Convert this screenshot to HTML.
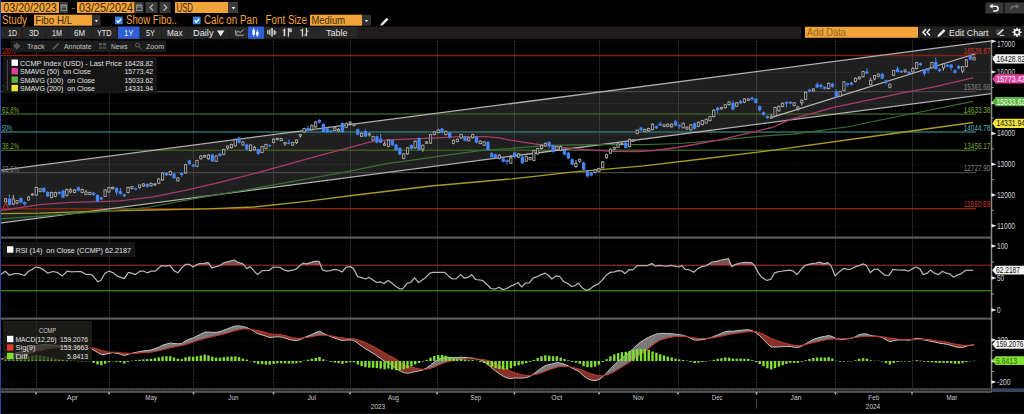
<!DOCTYPE html>
<html><head><meta charset="utf-8"><title>CCMP</title><style>html,body{margin:0;padding:0;background:#000;overflow:hidden}body{width:1024px;height:414px;font-family:"Liberation Sans",sans-serif}</style></head><body>
<svg width="1024" height="414" viewBox="0 0 1024 414" font-family="Liberation Sans, sans-serif" style="display:block">
<rect x="0" y="0" width="1024" height="414" fill="#000"/>
<g shape-rendering="crispEdges">
<line x1="36" y1="40" x2="36" y2="389" stroke="#ffffff" stroke-width="1" stroke-opacity="0.125"/>
<line x1="109" y1="40" x2="109" y2="389" stroke="#ffffff" stroke-width="1" stroke-opacity="0.125"/>
<line x1="193.5" y1="40" x2="193.5" y2="389" stroke="#ffffff" stroke-width="1" stroke-opacity="0.125"/>
<line x1="273.5" y1="40" x2="273.5" y2="389" stroke="#ffffff" stroke-width="1" stroke-opacity="0.125"/>
<line x1="350" y1="40" x2="350" y2="389" stroke="#ffffff" stroke-width="1" stroke-opacity="0.125"/>
<line x1="437" y1="40" x2="437" y2="389" stroke="#ffffff" stroke-width="1" stroke-opacity="0.125"/>
<line x1="514.5" y1="40" x2="514.5" y2="389" stroke="#ffffff" stroke-width="1" stroke-opacity="0.125"/>
<line x1="599" y1="40" x2="599" y2="389" stroke="#ffffff" stroke-width="1" stroke-opacity="0.125"/>
<line x1="678" y1="40" x2="678" y2="389" stroke="#ffffff" stroke-width="1" stroke-opacity="0.125"/>
<line x1="756.5" y1="40" x2="756.5" y2="389" stroke="#ffffff" stroke-width="1" stroke-opacity="0.125"/>
<line x1="835.5" y1="40" x2="835.5" y2="389" stroke="#ffffff" stroke-width="1" stroke-opacity="0.125"/>
<line x1="912" y1="40" x2="912" y2="389" stroke="#ffffff" stroke-width="1" stroke-opacity="0.125"/>
<line x1="0" y1="41.5" x2="991.5" y2="41.5" stroke="#ffffff" stroke-width="1" stroke-dasharray="1,1" stroke-opacity="0.08"/>
<line x1="0" y1="72.5" x2="991.5" y2="72.5" stroke="#ffffff" stroke-width="1" stroke-dasharray="1,1" stroke-opacity="0.08"/>
<line x1="0" y1="103.5" x2="991.5" y2="103.5" stroke="#ffffff" stroke-width="1" stroke-dasharray="1,1" stroke-opacity="0.08"/>
<line x1="0" y1="134.5" x2="991.5" y2="134.5" stroke="#ffffff" stroke-width="1" stroke-dasharray="1,1" stroke-opacity="0.08"/>
<line x1="0" y1="164.5" x2="991.5" y2="164.5" stroke="#ffffff" stroke-width="1" stroke-dasharray="1,1" stroke-opacity="0.08"/>
<line x1="0" y1="195.5" x2="991.5" y2="195.5" stroke="#ffffff" stroke-width="1" stroke-dasharray="1,1" stroke-opacity="0.08"/>
<line x1="0" y1="226.5" x2="991.5" y2="226.5" stroke="#ffffff" stroke-width="1" stroke-dasharray="1,1" stroke-opacity="0.08"/>
<line x1="0" y1="246.5" x2="991.5" y2="246.5" stroke="#ffffff" stroke-width="1" stroke-dasharray="1,1" stroke-opacity="0.08"/>
<line x1="0" y1="278.5" x2="991.5" y2="278.5" stroke="#ffffff" stroke-width="1" stroke-dasharray="1,1" stroke-opacity="0.08"/>
<line x1="0" y1="310.5" x2="991.5" y2="310.5" stroke="#ffffff" stroke-width="1" stroke-dasharray="1,1" stroke-opacity="0.08"/>
<line x1="0" y1="340.5" x2="991.5" y2="340.5" stroke="#ffffff" stroke-width="1" stroke-dasharray="1,1" stroke-opacity="0.08"/>
<line x1="0" y1="361.5" x2="991.5" y2="361.5" stroke="#ffffff" stroke-width="1" stroke-dasharray="1,1" stroke-opacity="0.08"/>
<line x1="0" y1="382.5" x2="991.5" y2="382.5" stroke="#ffffff" stroke-width="1" stroke-dasharray="1,1" stroke-opacity="0.08"/>
</g>
<polygon points="0,170.4 991.5,40.8 991.5,93.5 0,223.2" fill="#ffffff" fill-opacity="0.12"/>
<line x1="0" y1="55.4" x2="976" y2="55.4" stroke="#86230f" stroke-width="1.5"/>
<line x1="0" y1="91.6" x2="976" y2="91.6" stroke="#464646" stroke-width="1.1"/>
<line x1="0" y1="114.0" x2="976" y2="114.0" stroke="#3b5a1c" stroke-width="1.5"/>
<line x1="0" y1="132.1" x2="976" y2="132.1" stroke="#337068" stroke-width="1.5"/>
<line x1="0" y1="150.2" x2="976" y2="150.2" stroke="#3b5a1c" stroke-width="1.5"/>
<line x1="0" y1="172.6" x2="976" y2="172.6" stroke="#464646" stroke-width="1.1"/>
<line x1="0" y1="208.8" x2="976" y2="208.8" stroke="#86230f" stroke-width="1.5"/>
<line x1="0" y1="170.45" x2="991.5" y2="40.761799999999994" stroke="#b0b0b0" stroke-width="1.25"/>
<line x1="0" y1="223.2" x2="991.5" y2="93.5118" stroke="#b0b0b0" stroke-width="1.25"/>
<line x1="771" y1="117.6" x2="975.5" y2="53.8" stroke="#b8b8b8" stroke-width="1.2"/>
<polyline points="0.0,213.6 40.0,213.2 100.0,211.1 151.0,210.0 207.0,208.8 254.0,207.0 304.0,201.6 356.0,195.0 431.0,186.0 512.0,178.8 574.4,171.8 644.0,165.8 706.0,158.5 768.0,150.8 875.5,136.0 973.0,122.5" fill="none" stroke="#a89c22" stroke-width="1.3" stroke-linejoin="round"/>
<polyline points="0.0,219.0 40.0,216.1 100.0,211.7 146.6,207.5 193.0,198.9 256.0,188.2 300.0,180.2 343.6,172.4 388.0,163.4 419.8,159.2 446.4,155.2 486.0,149.9 512.0,148.4 547.8,145.3 587.7,144.6 644.0,144.6 680.0,143.5 720.0,140.2 764.6,135.8 793.0,134.2 850.0,126.5 868.0,122.5 918.0,112.5 973.0,101.3" fill="none" stroke="#377032" stroke-width="1.25" stroke-linejoin="round"/>
<polyline points="0.0,210.5 40.0,204.6 70.0,202.3 100.0,201.6 120.0,200.9 153.0,196.9 186.4,190.2 219.6,182.3 256.0,173.2 318.4,155.8 371.5,141.6 388.0,139.9 406.6,139.2 437.0,137.9 459.7,136.6 486.0,136.6 499.5,137.9 510.0,140.2 534.6,143.9 561.0,147.3 587.7,149.9 614.0,151.4 637.0,151.6 655.0,150.5 677.0,147.5 700.0,143.5 722.0,139.4 745.0,133.8 772.0,127.5 790.6,119.4 835.7,106.8 886.6,96.4 900.0,93.4 933.0,87.2 973.0,77.9" fill="none" stroke="#aa3a6c" stroke-width="1.3" stroke-linejoin="round"/>
<line x1="5.6" y1="198.0" x2="5.6" y2="202.70000000000002" stroke="#b4b4b4" stroke-width="1"/>
<rect x="4.4" y="198.8" width="2.3" height="3.0999999999999943" fill="#1c1c1c" stroke="#b4b4b4" stroke-width="0.8"/>
<line x1="9.4" y1="194.4" x2="9.4" y2="205.6" stroke="#4585f5" stroke-width="1"/>
<rect x="7.8" y="198.8" width="3.3" height="6.199999999999989" fill="#4585f5"/>
<line x1="13.3" y1="195" x2="13.3" y2="205" stroke="#b4b4b4" stroke-width="1"/>
<rect x="12.1" y="199" width="2.3" height="5" fill="#1c1c1c" stroke="#b4b4b4" stroke-width="0.8"/>
<line x1="17.1" y1="200" x2="17.1" y2="204.4" stroke="#b4b4b4" stroke-width="1"/>
<rect x="15.9" y="200.6" width="2.3" height="2.4000000000000057" fill="#1c1c1c" stroke="#b4b4b4" stroke-width="0.8"/>
<line x1="20.9" y1="197.2" x2="20.9" y2="203.3" stroke="#4585f5" stroke-width="1"/>
<rect x="19.3" y="198" width="3.3" height="4.5" fill="#4585f5"/>
<line x1="24.7" y1="201.5" x2="24.7" y2="205.6" stroke="#4585f5" stroke-width="1"/>
<rect x="23.1" y="202" width="3.3" height="2.4000000000000057" fill="#4585f5"/>
<line x1="28.6" y1="196.2" x2="28.6" y2="200.8" stroke="#b4b4b4" stroke-width="1"/>
<rect x="27.4" y="197" width="2.3" height="3" fill="#1c1c1c" stroke="#b4b4b4" stroke-width="0.8"/>
<line x1="32.4" y1="193.2" x2="32.4" y2="195.8" stroke="#b4b4b4" stroke-width="1"/>
<rect x="31.2" y="194" width="2.3" height="1" fill="#1c1c1c" stroke="#b4b4b4" stroke-width="0.8"/>
<line x1="36.2" y1="186.7" x2="36.2" y2="195.8" stroke="#b4b4b4" stroke-width="1"/>
<rect x="35.1" y="187.5" width="2.3" height="7.5" fill="#1c1c1c" stroke="#b4b4b4" stroke-width="0.8"/>
<line x1="40.1" y1="188.3" x2="40.1" y2="192.5" stroke="#b4b4b4" stroke-width="1"/>
<rect x="38.9" y="188.8" width="2.3" height="2.5" fill="#1c1c1c" stroke="#b4b4b4" stroke-width="0.8"/>
<line x1="43.9" y1="187.2" x2="43.9" y2="192.8" stroke="#4585f5" stroke-width="1"/>
<rect x="42.2" y="188" width="3.3" height="4" fill="#4585f5"/>
<line x1="47.7" y1="191.2" x2="47.7" y2="197.10000000000002" stroke="#4585f5" stroke-width="1"/>
<rect x="46.1" y="192" width="3.3" height="4.300000000000011" fill="#4585f5"/>
<line x1="51.5" y1="191.7" x2="51.5" y2="198.3" stroke="#b4b4b4" stroke-width="1"/>
<rect x="50.4" y="192.5" width="2.3" height="5.0" fill="#1c1c1c" stroke="#b4b4b4" stroke-width="0.8"/>
<line x1="55.4" y1="191.7" x2="55.4" y2="197.10000000000002" stroke="#b4b4b4" stroke-width="1"/>
<rect x="54.2" y="192.5" width="2.3" height="3.8000000000000114" fill="#1c1c1c" stroke="#b4b4b4" stroke-width="0.8"/>
<line x1="59.2" y1="191.2" x2="59.2" y2="194.60000000000002" stroke="#4585f5" stroke-width="1"/>
<rect x="57.5" y="192" width="3.3" height="1.8000000000000114" fill="#4585f5"/>
<line x1="63.0" y1="189.79999999999998" x2="63.0" y2="198.3" stroke="#4585f5" stroke-width="1"/>
<rect x="61.4" y="190.6" width="3.3" height="6.900000000000006" fill="#4585f5"/>
<line x1="66.8" y1="188.6" x2="66.8" y2="196.4" stroke="#b4b4b4" stroke-width="1"/>
<rect x="65.7" y="189.4" width="2.3" height="6.199999999999989" fill="#1c1c1c" stroke="#b4b4b4" stroke-width="0.8"/>
<line x1="70.7" y1="188.1" x2="70.7" y2="193.1" stroke="#b4b4b4" stroke-width="1"/>
<rect x="69.5" y="190" width="2.3" height="2" fill="#1c1c1c" stroke="#b4b4b4" stroke-width="0.8"/>
<line x1="74.5" y1="189.2" x2="74.5" y2="193.3" stroke="#b4b4b4" stroke-width="1"/>
<rect x="73.4" y="190" width="2.3" height="2.5" fill="#1c1c1c" stroke="#b4b4b4" stroke-width="0.8"/>
<line x1="78.3" y1="186.5" x2="78.3" y2="191.4" stroke="#4585f5" stroke-width="1"/>
<rect x="76.7" y="187.3" width="3.3" height="3.299999999999983" fill="#4585f5"/>
<line x1="82.2" y1="188.6" x2="82.2" y2="193.3" stroke="#b4b4b4" stroke-width="1"/>
<rect x="81.0" y="189.4" width="2.3" height="3.0999999999999943" fill="#1c1c1c" stroke="#b4b4b4" stroke-width="0.8"/>
<line x1="86.0" y1="190" x2="86.0" y2="195" stroke="#b4b4b4" stroke-width="1"/>
<rect x="84.8" y="192" width="2.3" height="2.4000000000000057" fill="#1c1c1c" stroke="#b4b4b4" stroke-width="0.8"/>
<line x1="89.8" y1="191.7" x2="89.8" y2="195.20000000000002" stroke="#b4b4b4" stroke-width="1"/>
<rect x="88.7" y="192.5" width="2.3" height="1.9000000000000057" fill="#1c1c1c" stroke="#b4b4b4" stroke-width="0.8"/>
<line x1="93.6" y1="192.0" x2="93.6" y2="195.60000000000002" stroke="#4585f5" stroke-width="1"/>
<rect x="92.0" y="192.8" width="3.3" height="2.0" fill="#4585f5"/>
<line x1="97.5" y1="194.2" x2="97.5" y2="202.10000000000002" stroke="#4585f5" stroke-width="1"/>
<rect x="95.8" y="195" width="3.3" height="6.300000000000011" fill="#4585f5"/>
<line x1="101.3" y1="196.7" x2="101.3" y2="200.20000000000002" stroke="#4585f5" stroke-width="1"/>
<rect x="99.6" y="197.5" width="3.3" height="1.9000000000000057" fill="#4585f5"/>
<line x1="105.1" y1="189.2" x2="105.1" y2="197.10000000000002" stroke="#b4b4b4" stroke-width="1"/>
<rect x="104.0" y="190" width="2.3" height="6.300000000000011" fill="#1c1c1c" stroke="#b4b4b4" stroke-width="0.8"/>
<line x1="109.0" y1="186.7" x2="109.0" y2="192.8" stroke="#b4b4b4" stroke-width="1"/>
<rect x="107.8" y="187.5" width="2.3" height="4.5" fill="#1c1c1c" stroke="#b4b4b4" stroke-width="0.8"/>
<line x1="112.8" y1="186.5" x2="112.8" y2="189.60000000000002" stroke="#b4b4b4" stroke-width="1"/>
<rect x="111.6" y="187.3" width="2.3" height="1.5" fill="#1c1c1c" stroke="#b4b4b4" stroke-width="0.8"/>
<line x1="116.6" y1="187.4" x2="116.6" y2="195" stroke="#4585f5" stroke-width="1"/>
<rect x="115.0" y="188" width="3.3" height="4.5" fill="#4585f5"/>
<line x1="120.4" y1="188.1" x2="120.4" y2="194.6" stroke="#4585f5" stroke-width="1"/>
<rect x="118.8" y="191.3" width="3.3" height="2.6999999999999886" fill="#4585f5"/>
<line x1="124.3" y1="193.6" x2="124.3" y2="197.10000000000002" stroke="#4585f5" stroke-width="1"/>
<rect x="122.6" y="194.4" width="3.3" height="1.9000000000000057" fill="#4585f5"/>
<line x1="128.1" y1="186.7" x2="128.1" y2="193.4" stroke="#b4b4b4" stroke-width="1"/>
<rect x="126.9" y="187.5" width="2.3" height="5.099999999999994" fill="#1c1c1c" stroke="#b4b4b4" stroke-width="0.8"/>
<line x1="131.9" y1="186" x2="131.9" y2="189.5" stroke="#b4b4b4" stroke-width="1"/>
<rect x="130.8" y="186.7" width="2.3" height="1.700000000000017" fill="#1c1c1c" stroke="#b4b4b4" stroke-width="0.8"/>
<line x1="135.8" y1="187.6" x2="135.8" y2="190.4" stroke="#4585f5" stroke-width="1"/>
<rect x="134.1" y="188.4" width="3.3" height="1.1999999999999886" fill="#4585f5"/>
<line x1="139.6" y1="184.8" x2="139.6" y2="188.6" stroke="#b4b4b4" stroke-width="1"/>
<rect x="138.4" y="185" width="2.3" height="2.5" fill="#1c1c1c" stroke="#b4b4b4" stroke-width="0.8"/>
<line x1="143.4" y1="183.2" x2="143.4" y2="186.8" stroke="#b4b4b4" stroke-width="1"/>
<rect x="142.3" y="184" width="2.3" height="2" fill="#1c1c1c" stroke="#b4b4b4" stroke-width="0.8"/>
<line x1="147.2" y1="183.2" x2="147.2" y2="187.5" stroke="#4585f5" stroke-width="1"/>
<rect x="145.6" y="184" width="3.3" height="2.6999999999999886" fill="#4585f5"/>
<line x1="151.1" y1="182.5" x2="151.1" y2="186.60000000000002" stroke="#b4b4b4" stroke-width="1"/>
<rect x="149.9" y="183.3" width="2.3" height="2.5" fill="#1c1c1c" stroke="#b4b4b4" stroke-width="0.8"/>
<line x1="154.9" y1="183.2" x2="154.9" y2="185.8" stroke="#b4b4b4" stroke-width="1"/>
<rect x="153.7" y="184" width="2.3" height="1" fill="#1c1c1c" stroke="#b4b4b4" stroke-width="0.8"/>
<line x1="158.7" y1="178.2" x2="158.7" y2="184.10000000000002" stroke="#b4b4b4" stroke-width="1"/>
<rect x="157.6" y="179" width="2.3" height="4.300000000000011" fill="#1c1c1c" stroke="#b4b4b4" stroke-width="0.8"/>
<line x1="162.5" y1="172.2" x2="162.5" y2="180.8" stroke="#b4b4b4" stroke-width="1"/>
<rect x="161.4" y="173" width="2.3" height="7" fill="#1c1c1c" stroke="#b4b4b4" stroke-width="0.8"/>
<line x1="166.4" y1="172.2" x2="166.4" y2="176.10000000000002" stroke="#4585f5" stroke-width="1"/>
<rect x="164.7" y="173" width="3.3" height="2.3000000000000114" fill="#4585f5"/>
<line x1="170.2" y1="170.7" x2="170.2" y2="175.60000000000002" stroke="#b4b4b4" stroke-width="1"/>
<rect x="169.1" y="171.5" width="2.3" height="3.3000000000000114" fill="#1c1c1c" stroke="#b4b4b4" stroke-width="0.8"/>
<line x1="174.0" y1="172.89999999999998" x2="174.0" y2="179.0" stroke="#4585f5" stroke-width="1"/>
<rect x="172.4" y="173.7" width="3.3" height="4.5" fill="#4585f5"/>
<line x1="177.9" y1="177.2" x2="177.9" y2="181.60000000000002" stroke="#b4b4b4" stroke-width="1"/>
<rect x="176.7" y="178" width="2.3" height="2.8000000000000114" fill="#1c1c1c" stroke="#b4b4b4" stroke-width="0.8"/>
<line x1="181.7" y1="172.5" x2="181.7" y2="176.7" stroke="#4585f5" stroke-width="1"/>
<rect x="180.0" y="173" width="3.3" height="2" fill="#4585f5"/>
<line x1="185.5" y1="163.89999999999998" x2="185.5" y2="173.8" stroke="#b4b4b4" stroke-width="1"/>
<rect x="184.4" y="164.7" width="2.3" height="8.300000000000011" fill="#1c1c1c" stroke="#b4b4b4" stroke-width="0.8"/>
<line x1="189.3" y1="159.7" x2="189.3" y2="164.8" stroke="#4585f5" stroke-width="1"/>
<rect x="187.7" y="160.5" width="3.3" height="3.5" fill="#4585f5"/>
<line x1="193.2" y1="163.89999999999998" x2="193.2" y2="167.20000000000002" stroke="#4585f5" stroke-width="1"/>
<rect x="191.5" y="164.7" width="3.3" height="1.700000000000017" fill="#4585f5"/>
<line x1="197.0" y1="159.7" x2="197.0" y2="167.20000000000002" stroke="#b4b4b4" stroke-width="1"/>
<rect x="195.8" y="160.5" width="2.3" height="5.900000000000006" fill="#1c1c1c" stroke="#b4b4b4" stroke-width="0.8"/>
<line x1="200.8" y1="155.2" x2="200.8" y2="159.60000000000002" stroke="#b4b4b4" stroke-width="1"/>
<rect x="199.7" y="156" width="2.3" height="2.8000000000000114" fill="#1c1c1c" stroke="#b4b4b4" stroke-width="0.8"/>
<line x1="204.7" y1="154.6" x2="204.7" y2="157.8" stroke="#b4b4b4" stroke-width="1"/>
<rect x="203.5" y="155.4" width="2.3" height="1.5999999999999943" fill="#1c1c1c" stroke="#b4b4b4" stroke-width="0.8"/>
<line x1="208.5" y1="154.2" x2="208.5" y2="159.60000000000002" stroke="#b4b4b4" stroke-width="1"/>
<rect x="207.3" y="155" width="2.3" height="3.8000000000000114" fill="#1c1c1c" stroke="#b4b4b4" stroke-width="0.8"/>
<line x1="212.3" y1="153.7" x2="212.3" y2="162.10000000000002" stroke="#4585f5" stroke-width="1"/>
<rect x="210.7" y="154.5" width="3.3" height="6.800000000000011" fill="#4585f5"/>
<line x1="216.1" y1="155.2" x2="216.1" y2="162.10000000000002" stroke="#b4b4b4" stroke-width="1"/>
<rect x="215.0" y="156" width="2.3" height="5.300000000000011" fill="#1c1c1c" stroke="#b4b4b4" stroke-width="0.8"/>
<line x1="220.0" y1="152.89999999999998" x2="220.0" y2="156.8" stroke="#4585f5" stroke-width="1"/>
<rect x="218.3" y="153.7" width="3.3" height="2.3000000000000114" fill="#4585f5"/>
<line x1="223.8" y1="148.7" x2="223.8" y2="155.3" stroke="#b4b4b4" stroke-width="1"/>
<rect x="222.6" y="149.5" width="2.3" height="5.0" fill="#1c1c1c" stroke="#b4b4b4" stroke-width="0.8"/>
<line x1="227.6" y1="145.8" x2="227.6" y2="149.5" stroke="#b4b4b4" stroke-width="1"/>
<rect x="226.5" y="146" width="2.3" height="2" fill="#1c1c1c" stroke="#b4b4b4" stroke-width="0.8"/>
<line x1="231.5" y1="143.6" x2="231.5" y2="148.60000000000002" stroke="#b4b4b4" stroke-width="1"/>
<rect x="230.3" y="144.4" width="2.3" height="3.4000000000000057" fill="#1c1c1c" stroke="#b4b4b4" stroke-width="0.8"/>
<line x1="235.3" y1="138.5" x2="235.3" y2="146.8" stroke="#b4b4b4" stroke-width="1"/>
<rect x="234.1" y="139.3" width="2.3" height="6.699999999999989" fill="#1c1c1c" stroke="#b4b4b4" stroke-width="0.8"/>
<line x1="239.1" y1="136.79999999999998" x2="239.1" y2="143.5" stroke="#4585f5" stroke-width="1"/>
<rect x="237.5" y="137.6" width="3.3" height="5.099999999999994" fill="#4585f5"/>
<line x1="242.9" y1="141.2" x2="242.9" y2="145.8" stroke="#b4b4b4" stroke-width="1"/>
<rect x="241.8" y="142" width="2.3" height="3" fill="#1c1c1c" stroke="#b4b4b4" stroke-width="0.8"/>
<line x1="246.8" y1="143.6" x2="246.8" y2="150.3" stroke="#4585f5" stroke-width="1"/>
<rect x="245.1" y="144.4" width="3.3" height="5.099999999999994" fill="#4585f5"/>
<line x1="250.6" y1="144.2" x2="250.6" y2="151.4" stroke="#b4b4b4" stroke-width="1"/>
<rect x="249.4" y="145" width="2.3" height="5.599999999999994" fill="#1c1c1c" stroke="#b4b4b4" stroke-width="0.8"/>
<line x1="254.4" y1="146.2" x2="254.4" y2="150.5" stroke="#b4b4b4" stroke-width="1"/>
<rect x="253.3" y="147.2" width="2.3" height="2.700000000000017" fill="#1c1c1c" stroke="#b4b4b4" stroke-width="0.8"/>
<line x1="258.2" y1="148.39999999999998" x2="258.2" y2="154.70000000000002" stroke="#4585f5" stroke-width="1"/>
<rect x="256.6" y="149.2" width="3.3" height="4.700000000000017" fill="#4585f5"/>
<line x1="262.1" y1="145.7" x2="262.1" y2="153.3" stroke="#b4b4b4" stroke-width="1"/>
<rect x="260.9" y="146.5" width="2.3" height="6.0" fill="#1c1c1c" stroke="#b4b4b4" stroke-width="0.8"/>
<line x1="265.9" y1="143.7" x2="265.9" y2="149.3" stroke="#b4b4b4" stroke-width="1"/>
<rect x="264.8" y="144.5" width="2.3" height="4.0" fill="#1c1c1c" stroke="#b4b4b4" stroke-width="0.8"/>
<line x1="269.7" y1="144.39999999999998" x2="269.7" y2="147.10000000000002" stroke="#4585f5" stroke-width="1"/>
<rect x="268.1" y="145.2" width="3.3" height="1.1000000000000227" fill="#4585f5"/>
<line x1="273.6" y1="138.39999999999998" x2="273.6" y2="143.4" stroke="#b4b4b4" stroke-width="1"/>
<rect x="272.4" y="139.2" width="2.3" height="3.4000000000000057" fill="#1c1c1c" stroke="#b4b4b4" stroke-width="0.8"/>
<line x1="277.4" y1="137.5" x2="277.4" y2="140.4" stroke="#b4b4b4" stroke-width="1"/>
<rect x="276.2" y="138.3" width="2.3" height="1.299999999999983" fill="#1c1c1c" stroke="#b4b4b4" stroke-width="0.8"/>
<line x1="281.2" y1="137.79999999999998" x2="281.2" y2="141.4" stroke="#b4b4b4" stroke-width="1"/>
<rect x="280.1" y="138.6" width="2.3" height="2.0" fill="#1c1c1c" stroke="#b4b4b4" stroke-width="0.8"/>
<line x1="285.0" y1="142.2" x2="285.0" y2="146" stroke="#b4b4b4" stroke-width="1"/>
<rect x="283.9" y="142.6" width="2.3" height="1.3000000000000114" fill="#1c1c1c" stroke="#b4b4b4" stroke-width="0.8"/>
<line x1="288.9" y1="139.2" x2="288.9" y2="144.2" stroke="#4585f5" stroke-width="1"/>
<rect x="287.2" y="142.6" width="3.3" height="1.3000000000000114" fill="#4585f5"/>
<line x1="292.7" y1="141.79999999999998" x2="292.7" y2="146.0" stroke="#b4b4b4" stroke-width="1"/>
<rect x="291.6" y="142.6" width="2.3" height="2.5999999999999943" fill="#1c1c1c" stroke="#b4b4b4" stroke-width="0.8"/>
<line x1="296.5" y1="139.5" x2="296.5" y2="144" stroke="#b4b4b4" stroke-width="1"/>
<rect x="295.4" y="140" width="2.3" height="2.5999999999999943" fill="#1c1c1c" stroke="#b4b4b4" stroke-width="0.8"/>
<line x1="300.4" y1="134.2" x2="300.4" y2="137.7" stroke="#b4b4b4" stroke-width="1"/>
<rect x="299.2" y="134.6" width="2.3" height="1.4000000000000057" fill="#1c1c1c" stroke="#b4b4b4" stroke-width="0.8"/>
<line x1="304.2" y1="127.8" x2="304.2" y2="132.8" stroke="#b4b4b4" stroke-width="1"/>
<rect x="303.0" y="128.6" width="2.3" height="3.4000000000000057" fill="#1c1c1c" stroke="#b4b4b4" stroke-width="0.8"/>
<line x1="308.0" y1="126" x2="308.0" y2="131" stroke="#4585f5" stroke-width="1"/>
<rect x="306.4" y="128" width="3.3" height="2.5999999999999943" fill="#4585f5"/>
<line x1="311.8" y1="124.5" x2="311.8" y2="130.5" stroke="#b4b4b4" stroke-width="1"/>
<rect x="310.7" y="125.3" width="2.3" height="4.3999999999999915" fill="#1c1c1c" stroke="#b4b4b4" stroke-width="0.8"/>
<line x1="315.7" y1="121.2" x2="315.7" y2="127.8" stroke="#b4b4b4" stroke-width="1"/>
<rect x="314.5" y="122" width="2.3" height="5" fill="#1c1c1c" stroke="#b4b4b4" stroke-width="0.8"/>
<line x1="319.5" y1="119.2" x2="319.5" y2="123.39999999999999" stroke="#4585f5" stroke-width="1"/>
<rect x="317.8" y="120" width="3.3" height="2.5999999999999943" fill="#4585f5"/>
<line x1="323.3" y1="123.2" x2="323.3" y2="132.8" stroke="#4585f5" stroke-width="1"/>
<rect x="321.7" y="124" width="3.3" height="8" fill="#4585f5"/>
<line x1="327.2" y1="127.60000000000001" x2="327.2" y2="133.10000000000002" stroke="#4585f5" stroke-width="1"/>
<rect x="325.5" y="128.4" width="3.3" height="3.9000000000000057" fill="#4585f5"/>
<line x1="331.0" y1="130" x2="331.0" y2="133.2" stroke="#4585f5" stroke-width="1"/>
<rect x="329.3" y="130.6" width="3.3" height="1.4000000000000057" fill="#4585f5"/>
<line x1="334.8" y1="126.6" x2="334.8" y2="131" stroke="#b4b4b4" stroke-width="1"/>
<rect x="333.7" y="128" width="2.3" height="2.5999999999999943" fill="#1c1c1c" stroke="#b4b4b4" stroke-width="0.8"/>
<line x1="338.6" y1="128" x2="338.6" y2="132" stroke="#b4b4b4" stroke-width="1"/>
<rect x="337.5" y="129.5" width="2.3" height="1.5" fill="#1c1c1c" stroke="#b4b4b4" stroke-width="0.8"/>
<line x1="342.5" y1="122.2" x2="342.5" y2="132.8" stroke="#4585f5" stroke-width="1"/>
<rect x="340.8" y="123" width="3.3" height="9" fill="#4585f5"/>
<line x1="346.3" y1="122.5" x2="346.3" y2="128.1" stroke="#b4b4b4" stroke-width="1"/>
<rect x="345.1" y="123.3" width="2.3" height="4.0" fill="#1c1c1c" stroke="#b4b4b4" stroke-width="0.8"/>
<line x1="350.1" y1="121.6" x2="350.1" y2="125.3" stroke="#b4b4b4" stroke-width="1"/>
<rect x="349.0" y="122" width="2.3" height="1.2999999999999972" fill="#1c1c1c" stroke="#b4b4b4" stroke-width="0.8"/>
<line x1="353.9" y1="123.6" x2="353.9" y2="126.5" stroke="#b4b4b4" stroke-width="1"/>
<rect x="352.8" y="124" width="2.3" height="1.2999999999999972" fill="#1c1c1c" stroke="#b4b4b4" stroke-width="0.8"/>
<line x1="357.8" y1="128.5" x2="357.8" y2="135.4" stroke="#4585f5" stroke-width="1"/>
<rect x="356.1" y="129.3" width="3.3" height="5.299999999999983" fill="#4585f5"/>
<line x1="361.6" y1="132.5" x2="361.6" y2="137.10000000000002" stroke="#b4b4b4" stroke-width="1"/>
<rect x="360.5" y="133.3" width="2.3" height="3.0" fill="#1c1c1c" stroke="#b4b4b4" stroke-width="0.8"/>
<line x1="365.4" y1="129.3" x2="365.4" y2="137" stroke="#4585f5" stroke-width="1"/>
<rect x="363.8" y="131.3" width="3.3" height="5.299999999999983" fill="#4585f5"/>
<line x1="369.3" y1="133.3" x2="369.3" y2="136.6" stroke="#b4b4b4" stroke-width="1"/>
<rect x="368.1" y="133.7" width="2.3" height="1.3000000000000114" fill="#1c1c1c" stroke="#b4b4b4" stroke-width="0.8"/>
<line x1="373.1" y1="135.79999999999998" x2="373.1" y2="140.8" stroke="#b4b4b4" stroke-width="1"/>
<rect x="371.9" y="136.6" width="2.3" height="3.4000000000000057" fill="#1c1c1c" stroke="#b4b4b4" stroke-width="0.8"/>
<line x1="376.9" y1="135.5" x2="376.9" y2="143.4" stroke="#4585f5" stroke-width="1"/>
<rect x="375.3" y="136.3" width="3.3" height="6.299999999999983" fill="#4585f5"/>
<line x1="380.7" y1="134" x2="380.7" y2="143" stroke="#4585f5" stroke-width="1"/>
<rect x="379.1" y="138.6" width="3.3" height="4.0" fill="#4585f5"/>
<line x1="384.6" y1="141.3" x2="384.6" y2="145.6" stroke="#b4b4b4" stroke-width="1"/>
<rect x="383.4" y="143.9" width="2.3" height="1.299999999999983" fill="#1c1c1c" stroke="#b4b4b4" stroke-width="0.8"/>
<line x1="388.4" y1="139.2" x2="388.4" y2="147.3" stroke="#b4b4b4" stroke-width="1"/>
<rect x="387.3" y="140" width="2.3" height="6.5" fill="#1c1c1c" stroke="#b4b4b4" stroke-width="0.8"/>
<line x1="392.2" y1="139.2" x2="392.2" y2="146.0" stroke="#4585f5" stroke-width="1"/>
<rect x="390.6" y="140" width="3.3" height="5.199999999999989" fill="#4585f5"/>
<line x1="396.1" y1="143.79999999999998" x2="396.1" y2="150.8" stroke="#4585f5" stroke-width="1"/>
<rect x="394.4" y="144.6" width="3.3" height="5.400000000000006" fill="#4585f5"/>
<line x1="399.9" y1="147.1" x2="399.9" y2="155.3" stroke="#4585f5" stroke-width="1"/>
<rect x="398.2" y="147.9" width="3.3" height="6.599999999999994" fill="#4585f5"/>
<line x1="403.7" y1="153.1" x2="403.7" y2="159.3" stroke="#b4b4b4" stroke-width="1"/>
<rect x="402.6" y="153.9" width="2.3" height="4.599999999999994" fill="#1c1c1c" stroke="#b4b4b4" stroke-width="0.8"/>
<line x1="407.5" y1="147.1" x2="407.5" y2="154.70000000000002" stroke="#b4b4b4" stroke-width="1"/>
<rect x="406.4" y="147.9" width="2.3" height="6.0" fill="#1c1c1c" stroke="#b4b4b4" stroke-width="0.8"/>
<line x1="411.4" y1="144.39999999999998" x2="411.4" y2="149.60000000000002" stroke="#4585f5" stroke-width="1"/>
<rect x="409.7" y="145.2" width="3.3" height="3.6000000000000227" fill="#4585f5"/>
<line x1="415.2" y1="140.39999999999998" x2="415.2" y2="148.70000000000002" stroke="#b4b4b4" stroke-width="1"/>
<rect x="414.0" y="141.2" width="2.3" height="6.700000000000017" fill="#1c1c1c" stroke="#b4b4b4" stroke-width="0.8"/>
<line x1="419.0" y1="137.2" x2="419.0" y2="150.70000000000002" stroke="#4585f5" stroke-width="1"/>
<rect x="417.4" y="138" width="3.3" height="11.900000000000006" fill="#4585f5"/>
<line x1="422.9" y1="144.6" x2="422.9" y2="151.9" stroke="#b4b4b4" stroke-width="1"/>
<rect x="421.7" y="145.2" width="2.3" height="4.0" fill="#1c1c1c" stroke="#b4b4b4" stroke-width="0.8"/>
<line x1="426.7" y1="141.1" x2="426.7" y2="144.0" stroke="#b4b4b4" stroke-width="1"/>
<rect x="425.5" y="141.9" width="2.3" height="1.299999999999983" fill="#1c1c1c" stroke="#b4b4b4" stroke-width="0.8"/>
<line x1="430.5" y1="133.79999999999998" x2="430.5" y2="144.0" stroke="#b4b4b4" stroke-width="1"/>
<rect x="429.4" y="134.6" width="2.3" height="8.599999999999994" fill="#1c1c1c" stroke="#b4b4b4" stroke-width="0.8"/>
<line x1="434.3" y1="131.2" x2="434.3" y2="135.4" stroke="#b4b4b4" stroke-width="1"/>
<rect x="433.2" y="132" width="2.3" height="2.5999999999999943" fill="#1c1c1c" stroke="#b4b4b4" stroke-width="0.8"/>
<line x1="438.2" y1="129.2" x2="438.2" y2="133.4" stroke="#b4b4b4" stroke-width="1"/>
<rect x="437.0" y="130" width="2.3" height="2.5999999999999943" fill="#1c1c1c" stroke="#b4b4b4" stroke-width="0.8"/>
<line x1="442.0" y1="127.8" x2="442.0" y2="133.4" stroke="#4585f5" stroke-width="1"/>
<rect x="440.3" y="128.6" width="3.3" height="4.0" fill="#4585f5"/>
<line x1="445.8" y1="130.5" x2="445.8" y2="135.4" stroke="#b4b4b4" stroke-width="1"/>
<rect x="444.7" y="131.3" width="2.3" height="3.299999999999983" fill="#1c1c1c" stroke="#b4b4b4" stroke-width="0.8"/>
<line x1="449.6" y1="132" x2="449.6" y2="138.6" stroke="#4585f5" stroke-width="1"/>
<rect x="448.0" y="132.6" width="3.3" height="4.700000000000017" fill="#4585f5"/>
<line x1="453.5" y1="139.5" x2="453.5" y2="144.3" stroke="#b4b4b4" stroke-width="1"/>
<rect x="452.3" y="140.3" width="2.3" height="3.1999999999999886" fill="#1c1c1c" stroke="#b4b4b4" stroke-width="0.8"/>
<line x1="457.3" y1="138.39999999999998" x2="457.3" y2="142.4" stroke="#b4b4b4" stroke-width="1"/>
<rect x="456.2" y="139.2" width="2.3" height="2.4000000000000057" fill="#1c1c1c" stroke="#b4b4b4" stroke-width="0.8"/>
<line x1="461.1" y1="133.79999999999998" x2="461.1" y2="138.8" stroke="#b4b4b4" stroke-width="1"/>
<rect x="460.0" y="134.6" width="2.3" height="3.4000000000000057" fill="#1c1c1c" stroke="#b4b4b4" stroke-width="0.8"/>
<line x1="465.0" y1="135.79999999999998" x2="465.0" y2="141.4" stroke="#4585f5" stroke-width="1"/>
<rect x="463.3" y="136.6" width="3.3" height="4.0" fill="#4585f5"/>
<line x1="468.8" y1="137.2" x2="468.8" y2="141.60000000000002" stroke="#b4b4b4" stroke-width="1"/>
<rect x="467.6" y="138" width="2.3" height="2.8000000000000114" fill="#1c1c1c" stroke="#b4b4b4" stroke-width="0.8"/>
<line x1="472.6" y1="133.79999999999998" x2="472.6" y2="138.5" stroke="#b4b4b4" stroke-width="1"/>
<rect x="471.5" y="134.6" width="2.3" height="3.0999999999999943" fill="#1c1c1c" stroke="#b4b4b4" stroke-width="0.8"/>
<line x1="476.4" y1="135.79999999999998" x2="476.4" y2="143.4" stroke="#4585f5" stroke-width="1"/>
<rect x="474.8" y="136.6" width="3.3" height="6.0" fill="#4585f5"/>
<line x1="480.3" y1="140.39999999999998" x2="480.3" y2="144.3" stroke="#b4b4b4" stroke-width="1"/>
<rect x="479.1" y="141.2" width="2.3" height="2.3000000000000114" fill="#1c1c1c" stroke="#b4b4b4" stroke-width="0.8"/>
<line x1="484.1" y1="141.1" x2="484.1" y2="146.0" stroke="#b4b4b4" stroke-width="1"/>
<rect x="483.0" y="141.9" width="2.3" height="3.299999999999983" fill="#1c1c1c" stroke="#b4b4b4" stroke-width="0.8"/>
<line x1="487.9" y1="141.1" x2="487.9" y2="150.70000000000002" stroke="#4585f5" stroke-width="1"/>
<rect x="486.3" y="141.9" width="3.3" height="8.0" fill="#4585f5"/>
<line x1="491.8" y1="151.9" x2="491.8" y2="157.6" stroke="#4585f5" stroke-width="1"/>
<rect x="490.1" y="153.2" width="3.3" height="4.0" fill="#4585f5"/>
<line x1="495.6" y1="153.7" x2="495.6" y2="158.60000000000002" stroke="#4585f5" stroke-width="1"/>
<rect x="493.9" y="154.5" width="3.3" height="3.3000000000000114" fill="#4585f5"/>
<line x1="499.4" y1="154.39999999999998" x2="499.4" y2="159.3" stroke="#b4b4b4" stroke-width="1"/>
<rect x="498.3" y="155.2" width="2.3" height="3.3000000000000114" fill="#1c1c1c" stroke="#b4b4b4" stroke-width="0.8"/>
<line x1="503.2" y1="157.7" x2="503.2" y2="162.60000000000002" stroke="#4585f5" stroke-width="1"/>
<rect x="501.6" y="158.5" width="3.3" height="3.3000000000000114" fill="#4585f5"/>
<line x1="507.1" y1="159.4" x2="507.1" y2="164.5" stroke="#4585f5" stroke-width="1"/>
<rect x="505.4" y="159.8" width="3.3" height="2.0" fill="#4585f5"/>
<line x1="510.9" y1="155.2" x2="510.9" y2="163.8" stroke="#b4b4b4" stroke-width="1"/>
<rect x="509.7" y="157.9" width="2.3" height="5.299999999999983" fill="#1c1c1c" stroke="#b4b4b4" stroke-width="0.8"/>
<line x1="514.7" y1="151.79999999999998" x2="514.7" y2="158.0" stroke="#4585f5" stroke-width="1"/>
<rect x="513.1" y="152.6" width="3.3" height="4.599999999999994" fill="#4585f5"/>
<line x1="518.6" y1="153.1" x2="518.6" y2="158.0" stroke="#b4b4b4" stroke-width="1"/>
<rect x="517.4" y="153.9" width="2.3" height="3.299999999999983" fill="#1c1c1c" stroke="#b4b4b4" stroke-width="0.8"/>
<line x1="522.4" y1="155.79999999999998" x2="522.4" y2="164.0" stroke="#4585f5" stroke-width="1"/>
<rect x="520.7" y="156.6" width="3.3" height="6.599999999999994" fill="#4585f5"/>
<line x1="526.2" y1="155.79999999999998" x2="526.2" y2="162.0" stroke="#b4b4b4" stroke-width="1"/>
<rect x="525.1" y="156.6" width="2.3" height="4.599999999999994" fill="#1c1c1c" stroke="#b4b4b4" stroke-width="0.8"/>
<line x1="530.0" y1="156.6" x2="530.0" y2="160.5" stroke="#b4b4b4" stroke-width="1"/>
<rect x="528.9" y="157.5" width="2.3" height="2.0" fill="#1c1c1c" stroke="#b4b4b4" stroke-width="0.8"/>
<line x1="533.9" y1="149.79999999999998" x2="533.9" y2="161.3" stroke="#b4b4b4" stroke-width="1"/>
<rect x="532.7" y="150.6" width="2.3" height="9.900000000000006" fill="#1c1c1c" stroke="#b4b4b4" stroke-width="0.8"/>
<line x1="537.7" y1="147.79999999999998" x2="537.7" y2="154.70000000000002" stroke="#b4b4b4" stroke-width="1"/>
<rect x="536.5" y="148.6" width="2.3" height="5.300000000000011" fill="#1c1c1c" stroke="#b4b4b4" stroke-width="0.8"/>
<line x1="541.5" y1="144.5" x2="541.5" y2="149.4" stroke="#b4b4b4" stroke-width="1"/>
<rect x="540.4" y="145.3" width="2.3" height="3.299999999999983" fill="#1c1c1c" stroke="#b4b4b4" stroke-width="0.8"/>
<line x1="545.3" y1="142.5" x2="545.3" y2="146.70000000000002" stroke="#b4b4b4" stroke-width="1"/>
<rect x="544.2" y="143.3" width="2.3" height="2.5999999999999943" fill="#1c1c1c" stroke="#b4b4b4" stroke-width="0.8"/>
<line x1="549.2" y1="141.3" x2="549.2" y2="148.6" stroke="#4585f5" stroke-width="1"/>
<rect x="547.5" y="141.9" width="3.3" height="4.0" fill="#4585f5"/>
<line x1="553.0" y1="144.5" x2="553.0" y2="152.70000000000002" stroke="#4585f5" stroke-width="1"/>
<rect x="551.4" y="145.3" width="3.3" height="6.599999999999994" fill="#4585f5"/>
<line x1="556.8" y1="145.79999999999998" x2="556.8" y2="150.70000000000002" stroke="#b4b4b4" stroke-width="1"/>
<rect x="555.7" y="146.6" width="2.3" height="3.3000000000000114" fill="#1c1c1c" stroke="#b4b4b4" stroke-width="0.8"/>
<line x1="560.7" y1="145.3" x2="560.7" y2="151.2" stroke="#b4b4b4" stroke-width="1"/>
<rect x="559.5" y="146.6" width="2.3" height="4.0" fill="#1c1c1c" stroke="#b4b4b4" stroke-width="0.8"/>
<line x1="564.5" y1="149.1" x2="564.5" y2="155.4" stroke="#4585f5" stroke-width="1"/>
<rect x="562.8" y="149.9" width="3.3" height="4.699999999999989" fill="#4585f5"/>
<line x1="568.3" y1="151.79999999999998" x2="568.3" y2="159.3" stroke="#4585f5" stroke-width="1"/>
<rect x="566.7" y="152.6" width="3.3" height="5.900000000000006" fill="#4585f5"/>
<line x1="572.1" y1="158.39999999999998" x2="572.1" y2="165.3" stroke="#4585f5" stroke-width="1"/>
<rect x="570.5" y="159.2" width="3.3" height="5.300000000000011" fill="#4585f5"/>
<line x1="576.0" y1="159.9" x2="576.0" y2="167.8" stroke="#b4b4b4" stroke-width="1"/>
<rect x="574.8" y="163.2" width="2.3" height="3.3000000000000114" fill="#1c1c1c" stroke="#b4b4b4" stroke-width="0.8"/>
<line x1="579.8" y1="158.6" x2="579.8" y2="163.2" stroke="#b4b4b4" stroke-width="1"/>
<rect x="578.6" y="159.2" width="2.3" height="2.0" fill="#1c1c1c" stroke="#b4b4b4" stroke-width="0.8"/>
<line x1="583.6" y1="161.7" x2="583.6" y2="170.60000000000002" stroke="#4585f5" stroke-width="1"/>
<rect x="582.0" y="162.5" width="3.3" height="7.300000000000011" fill="#4585f5"/>
<line x1="587.5" y1="169.7" x2="587.5" y2="177.3" stroke="#4585f5" stroke-width="1"/>
<rect x="585.8" y="170.5" width="3.3" height="6.0" fill="#4585f5"/>
<line x1="591.3" y1="171.7" x2="591.3" y2="176.3" stroke="#4585f5" stroke-width="1"/>
<rect x="589.6" y="172.5" width="3.3" height="3.0" fill="#4585f5"/>
<line x1="595.1" y1="169.0" x2="595.1" y2="173.3" stroke="#b4b4b4" stroke-width="1"/>
<rect x="594.0" y="169.8" width="2.3" height="2.6999999999999886" fill="#1c1c1c" stroke="#b4b4b4" stroke-width="0.8"/>
<line x1="598.9" y1="167.7" x2="598.9" y2="172.0" stroke="#b4b4b4" stroke-width="1"/>
<rect x="597.8" y="168.5" width="2.3" height="2.6999999999999886" fill="#1c1c1c" stroke="#b4b4b4" stroke-width="0.8"/>
<line x1="602.8" y1="161.1" x2="602.8" y2="168.60000000000002" stroke="#b4b4b4" stroke-width="1"/>
<rect x="601.6" y="161.9" width="2.3" height="5.900000000000006" fill="#1c1c1c" stroke="#b4b4b4" stroke-width="0.8"/>
<line x1="606.6" y1="153.79999999999998" x2="606.6" y2="158.70000000000002" stroke="#b4b4b4" stroke-width="1"/>
<rect x="605.4" y="154.6" width="2.3" height="3.3000000000000114" fill="#1c1c1c" stroke="#b4b4b4" stroke-width="0.8"/>
<line x1="610.4" y1="148.39999999999998" x2="610.4" y2="154.0" stroke="#b4b4b4" stroke-width="1"/>
<rect x="609.3" y="149.2" width="2.3" height="4.0" fill="#1c1c1c" stroke="#b4b4b4" stroke-width="0.8"/>
<line x1="614.3" y1="146.5" x2="614.3" y2="150.0" stroke="#b4b4b4" stroke-width="1"/>
<rect x="613.1" y="147.3" width="2.3" height="1.8999999999999773" fill="#1c1c1c" stroke="#b4b4b4" stroke-width="0.8"/>
<line x1="618.1" y1="143.1" x2="618.1" y2="148.10000000000002" stroke="#b4b4b4" stroke-width="1"/>
<rect x="616.9" y="143.9" width="2.3" height="3.4000000000000057" fill="#1c1c1c" stroke="#b4b4b4" stroke-width="0.8"/>
<line x1="621.9" y1="142.5" x2="621.9" y2="145.4" stroke="#b4b4b4" stroke-width="1"/>
<rect x="620.8" y="143.3" width="2.3" height="1.299999999999983" fill="#1c1c1c" stroke="#b4b4b4" stroke-width="0.8"/>
<line x1="625.7" y1="141.79999999999998" x2="625.7" y2="148.70000000000002" stroke="#4585f5" stroke-width="1"/>
<rect x="624.1" y="142.6" width="3.3" height="5.300000000000011" fill="#4585f5"/>
<line x1="629.6" y1="138.5" x2="629.6" y2="147.4" stroke="#b4b4b4" stroke-width="1"/>
<rect x="628.4" y="139.3" width="2.3" height="7.299999999999983" fill="#1c1c1c" stroke="#b4b4b4" stroke-width="0.8"/>
<line x1="633.4" y1="139.2" x2="633.4" y2="142.10000000000002" stroke="#b4b4b4" stroke-width="1"/>
<rect x="632.2" y="140" width="2.3" height="1.3000000000000114" fill="#1c1c1c" stroke="#b4b4b4" stroke-width="0.8"/>
<line x1="637.2" y1="129.39999999999998" x2="637.2" y2="134.3" stroke="#b4b4b4" stroke-width="1"/>
<rect x="636.1" y="130.2" width="2.3" height="3.3000000000000114" fill="#1c1c1c" stroke="#b4b4b4" stroke-width="0.8"/>
<line x1="641.0" y1="126.7" x2="641.0" y2="131.0" stroke="#4585f5" stroke-width="1"/>
<rect x="639.4" y="127.5" width="3.3" height="2.6999999999999886" fill="#4585f5"/>
<line x1="644.9" y1="128.7" x2="644.9" y2="132.3" stroke="#b4b4b4" stroke-width="1"/>
<rect x="643.7" y="129.5" width="2.3" height="2.0" fill="#1c1c1c" stroke="#b4b4b4" stroke-width="0.8"/>
<line x1="648.7" y1="127.8" x2="648.7" y2="131.60000000000002" stroke="#b4b4b4" stroke-width="1"/>
<rect x="647.6" y="128.6" width="2.3" height="2.200000000000017" fill="#1c1c1c" stroke="#b4b4b4" stroke-width="0.8"/>
<line x1="652.5" y1="123.4" x2="652.5" y2="130.3" stroke="#b4b4b4" stroke-width="1"/>
<rect x="651.4" y="124.2" width="2.3" height="5.299999999999997" fill="#1c1c1c" stroke="#b4b4b4" stroke-width="0.8"/>
<line x1="656.4" y1="125.4" x2="656.4" y2="129.0" stroke="#4585f5" stroke-width="1"/>
<rect x="654.7" y="126.2" width="3.3" height="1.9999999999999858" fill="#4585f5"/>
<line x1="660.2" y1="121.5" x2="660.2" y2="126" stroke="#4585f5" stroke-width="1"/>
<rect x="658.5" y="123.5" width="3.3" height="2.0" fill="#4585f5"/>
<line x1="664.0" y1="124.0" x2="664.0" y2="127.2" stroke="#b4b4b4" stroke-width="1"/>
<rect x="662.9" y="124.8" width="2.3" height="1.6000000000000085" fill="#1c1c1c" stroke="#b4b4b4" stroke-width="0.8"/>
<line x1="667.8" y1="123.4" x2="667.8" y2="127.2" stroke="#b4b4b4" stroke-width="1"/>
<rect x="666.7" y="124.2" width="2.3" height="2.200000000000003" fill="#1c1c1c" stroke="#b4b4b4" stroke-width="0.8"/>
<line x1="671.7" y1="123.4" x2="671.7" y2="127.6" stroke="#b4b4b4" stroke-width="1"/>
<rect x="670.5" y="124.2" width="2.3" height="2.5999999999999943" fill="#1c1c1c" stroke="#b4b4b4" stroke-width="0.8"/>
<line x1="675.5" y1="119.8" x2="675.5" y2="126" stroke="#4585f5" stroke-width="1"/>
<rect x="673.9" y="121.5" width="3.3" height="4.0" fill="#4585f5"/>
<line x1="679.3" y1="124.2" x2="679.3" y2="128.8" stroke="#4585f5" stroke-width="1"/>
<rect x="677.7" y="124.8" width="3.3" height="1.6000000000000085" fill="#4585f5"/>
<line x1="683.2" y1="122.4" x2="683.2" y2="128.6" stroke="#b4b4b4" stroke-width="1"/>
<rect x="682.0" y="123.2" width="2.3" height="4.599999999999994" fill="#1c1c1c" stroke="#b4b4b4" stroke-width="0.8"/>
<line x1="687.0" y1="126.4" x2="687.0" y2="129.9" stroke="#b4b4b4" stroke-width="1"/>
<rect x="685.8" y="127.2" width="2.3" height="1.8999999999999915" fill="#1c1c1c" stroke="#b4b4b4" stroke-width="0.8"/>
<line x1="690.8" y1="124.0" x2="690.8" y2="130.70000000000002" stroke="#b4b4b4" stroke-width="1"/>
<rect x="689.7" y="124.8" width="2.3" height="5.1000000000000085" fill="#1c1c1c" stroke="#b4b4b4" stroke-width="0.8"/>
<line x1="694.6" y1="122.4" x2="694.6" y2="129.60000000000002" stroke="#4585f5" stroke-width="1"/>
<rect x="693.0" y="123.2" width="3.3" height="5.6000000000000085" fill="#4585f5"/>
<line x1="698.5" y1="121.4" x2="698.5" y2="127.2" stroke="#b4b4b4" stroke-width="1"/>
<rect x="697.3" y="122.2" width="2.3" height="4.200000000000003" fill="#1c1c1c" stroke="#b4b4b4" stroke-width="0.8"/>
<line x1="702.3" y1="119.8" x2="702.3" y2="125.39999999999999" stroke="#b4b4b4" stroke-width="1"/>
<rect x="701.1" y="120.6" width="2.3" height="4.0" fill="#1c1c1c" stroke="#b4b4b4" stroke-width="0.8"/>
<line x1="706.1" y1="118.5" x2="706.1" y2="124.0" stroke="#b4b4b4" stroke-width="1"/>
<rect x="705.0" y="119.3" width="2.3" height="3.9000000000000057" fill="#1c1c1c" stroke="#b4b4b4" stroke-width="0.8"/>
<line x1="710.0" y1="115.8" x2="710.0" y2="121.39999999999999" stroke="#b4b4b4" stroke-width="1"/>
<rect x="708.8" y="116.6" width="2.3" height="4.0" fill="#1c1c1c" stroke="#b4b4b4" stroke-width="0.8"/>
<line x1="713.8" y1="109.4" x2="713.8" y2="117.39999999999999" stroke="#b4b4b4" stroke-width="1"/>
<rect x="712.6" y="110.2" width="2.3" height="6.3999999999999915" fill="#1c1c1c" stroke="#b4b4b4" stroke-width="0.8"/>
<line x1="717.6" y1="107" x2="717.6" y2="112.9" stroke="#4585f5" stroke-width="1"/>
<rect x="716.0" y="107.6" width="3.3" height="2.6000000000000085" fill="#4585f5"/>
<line x1="721.4" y1="106.8" x2="721.4" y2="109.7" stroke="#b4b4b4" stroke-width="1"/>
<rect x="720.3" y="107.6" width="2.3" height="1.3000000000000114" fill="#1c1c1c" stroke="#b4b4b4" stroke-width="0.8"/>
<line x1="725.3" y1="103.9" x2="725.3" y2="108.6" stroke="#b4b4b4" stroke-width="1"/>
<rect x="724.1" y="104.7" width="2.3" height="3.0999999999999943" fill="#1c1c1c" stroke="#b4b4b4" stroke-width="0.8"/>
<line x1="729.1" y1="101.2" x2="729.1" y2="105.5" stroke="#b4b4b4" stroke-width="1"/>
<rect x="727.9" y="102" width="2.3" height="2.700000000000003" fill="#1c1c1c" stroke="#b4b4b4" stroke-width="0.8"/>
<line x1="732.9" y1="100.3" x2="732.9" y2="110.2" stroke="#4585f5" stroke-width="1"/>
<rect x="731.3" y="102.9" width="3.3" height="6.699999999999989" fill="#4585f5"/>
<line x1="736.7" y1="102.10000000000001" x2="736.7" y2="107.0" stroke="#b4b4b4" stroke-width="1"/>
<rect x="735.6" y="102.9" width="2.3" height="3.299999999999997" fill="#1c1c1c" stroke="#b4b4b4" stroke-width="0.8"/>
<line x1="740.6" y1="100.10000000000001" x2="740.6" y2="104.1" stroke="#4585f5" stroke-width="1"/>
<rect x="738.9" y="100.9" width="3.3" height="2.3999999999999915" fill="#4585f5"/>
<line x1="744.4" y1="98.10000000000001" x2="744.4" y2="103.1" stroke="#b4b4b4" stroke-width="1"/>
<rect x="743.3" y="98.9" width="2.3" height="3.3999999999999915" fill="#1c1c1c" stroke="#b4b4b4" stroke-width="0.8"/>
<line x1="748.2" y1="98.10000000000001" x2="748.2" y2="101.1" stroke="#b4b4b4" stroke-width="1"/>
<rect x="747.1" y="98.9" width="2.3" height="1.3999999999999915" fill="#1c1c1c" stroke="#b4b4b4" stroke-width="0.8"/>
<line x1="752.1" y1="96.8" x2="752.1" y2="100.39999999999999" stroke="#4585f5" stroke-width="1"/>
<rect x="750.4" y="97.6" width="3.3" height="2.0" fill="#4585f5"/>
<line x1="755.9" y1="98.10000000000001" x2="755.9" y2="103.7" stroke="#4585f5" stroke-width="1"/>
<rect x="754.2" y="98.9" width="3.3" height="4.0" fill="#4585f5"/>
<line x1="759.7" y1="105.4" x2="759.7" y2="111.6" stroke="#4585f5" stroke-width="1"/>
<rect x="758.1" y="106" width="3.3" height="4.200000000000003" fill="#4585f5"/>
<line x1="763.5" y1="111.4" x2="763.5" y2="115.7" stroke="#4585f5" stroke-width="1"/>
<rect x="761.9" y="112.2" width="3.3" height="2.700000000000003" fill="#4585f5"/>
<line x1="767.4" y1="115.3" x2="767.4" y2="118.89999999999999" stroke="#4585f5" stroke-width="1"/>
<rect x="765.7" y="116.1" width="3.3" height="2.0" fill="#4585f5"/>
<line x1="771.2" y1="114.1" x2="771.2" y2="118.5" stroke="#b4b4b4" stroke-width="1"/>
<rect x="770.1" y="116.8" width="2.3" height="1.2999999999999972" fill="#1c1c1c" stroke="#b4b4b4" stroke-width="0.8"/>
<line x1="775.0" y1="106.7" x2="775.0" y2="116.89999999999999" stroke="#b4b4b4" stroke-width="1"/>
<rect x="773.9" y="107.5" width="2.3" height="8.599999999999994" fill="#1c1c1c" stroke="#b4b4b4" stroke-width="0.8"/>
<line x1="778.9" y1="105.4" x2="778.9" y2="111.6" stroke="#b4b4b4" stroke-width="1"/>
<rect x="777.7" y="106.2" width="2.3" height="4.599999999999994" fill="#1c1c1c" stroke="#b4b4b4" stroke-width="0.8"/>
<line x1="782.7" y1="102.4" x2="782.7" y2="107.2" stroke="#b4b4b4" stroke-width="1"/>
<rect x="781.5" y="103.2" width="2.3" height="3.200000000000003" fill="#1c1c1c" stroke="#b4b4b4" stroke-width="0.8"/>
<line x1="786.5" y1="101.3" x2="786.5" y2="107.5" stroke="#4585f5" stroke-width="1"/>
<rect x="784.9" y="101.9" width="3.3" height="1.5999999999999943" fill="#4585f5"/>
<line x1="790.3" y1="101.10000000000001" x2="790.3" y2="104.3" stroke="#4585f5" stroke-width="1"/>
<rect x="788.7" y="101.9" width="3.3" height="1.5999999999999943" fill="#4585f5"/>
<line x1="794.2" y1="102.0" x2="794.2" y2="106.3" stroke="#b4b4b4" stroke-width="1"/>
<rect x="793.0" y="102.8" width="2.3" height="2.700000000000003" fill="#1c1c1c" stroke="#b4b4b4" stroke-width="0.8"/>
<line x1="798.0" y1="106.2" x2="798.0" y2="110.8" stroke="#b4b4b4" stroke-width="1"/>
<rect x="796.8" y="106.8" width="2.3" height="2.0" fill="#1c1c1c" stroke="#b4b4b4" stroke-width="0.8"/>
<line x1="801.8" y1="99.6" x2="801.8" y2="105.5" stroke="#b4b4b4" stroke-width="1"/>
<rect x="800.7" y="100.2" width="2.3" height="2.5999999999999943" fill="#1c1c1c" stroke="#b4b4b4" stroke-width="0.8"/>
<line x1="805.7" y1="91.4" x2="805.7" y2="100.1" stroke="#b4b4b4" stroke-width="1"/>
<rect x="804.5" y="92.2" width="2.3" height="7.099999999999994" fill="#1c1c1c" stroke="#b4b4b4" stroke-width="0.8"/>
<line x1="809.5" y1="88.8" x2="809.5" y2="92.39999999999999" stroke="#4585f5" stroke-width="1"/>
<rect x="807.8" y="89.6" width="3.3" height="2.0" fill="#4585f5"/>
<line x1="813.3" y1="88.10000000000001" x2="813.3" y2="91.7" stroke="#b4b4b4" stroke-width="1"/>
<rect x="812.2" y="88.9" width="2.3" height="2.0" fill="#1c1c1c" stroke="#b4b4b4" stroke-width="0.8"/>
<line x1="817.1" y1="82.3" x2="817.1" y2="88.2" stroke="#4585f5" stroke-width="1"/>
<rect x="815.5" y="84.3" width="3.3" height="3.299999999999997" fill="#4585f5"/>
<line x1="821.0" y1="83.6" x2="821.0" y2="88.9" stroke="#4585f5" stroke-width="1"/>
<rect x="819.3" y="84.9" width="3.3" height="2.0" fill="#4585f5"/>
<line x1="824.8" y1="86.10000000000001" x2="824.8" y2="89.7" stroke="#4585f5" stroke-width="1"/>
<rect x="823.1" y="86.9" width="3.3" height="2.0" fill="#4585f5"/>
<line x1="828.6" y1="82.5" x2="828.6" y2="89.39999999999999" stroke="#b4b4b4" stroke-width="1"/>
<rect x="827.5" y="83.3" width="2.3" height="5.299999999999997" fill="#1c1c1c" stroke="#b4b4b4" stroke-width="0.8"/>
<line x1="832.4" y1="82.8" x2="832.4" y2="87.7" stroke="#4585f5" stroke-width="1"/>
<rect x="830.8" y="83.6" width="3.3" height="3.3000000000000114" fill="#4585f5"/>
<line x1="836.3" y1="89.5" x2="836.3" y2="98" stroke="#4585f5" stroke-width="1"/>
<rect x="834.6" y="91.6" width="3.3" height="5.900000000000006" fill="#4585f5"/>
<line x1="840.1" y1="90.8" x2="840.1" y2="97.0" stroke="#b4b4b4" stroke-width="1"/>
<rect x="839.0" y="91.6" width="2.3" height="4.6000000000000085" fill="#1c1c1c" stroke="#b4b4b4" stroke-width="0.8"/>
<line x1="843.9" y1="81.2" x2="843.9" y2="91.3" stroke="#b4b4b4" stroke-width="1"/>
<rect x="842.8" y="82" width="2.3" height="8.5" fill="#1c1c1c" stroke="#b4b4b4" stroke-width="0.8"/>
<line x1="847.8" y1="82.8" x2="847.8" y2="86.9" stroke="#4585f5" stroke-width="1"/>
<rect x="846.1" y="83.3" width="3.3" height="1.4000000000000057" fill="#4585f5"/>
<line x1="851.6" y1="81.7" x2="851.6" y2="85.5" stroke="#4585f5" stroke-width="1"/>
<rect x="849.9" y="82.5" width="3.3" height="2.200000000000003" fill="#4585f5"/>
<line x1="855.4" y1="77.5" x2="855.4" y2="82.39999999999999" stroke="#b4b4b4" stroke-width="1"/>
<rect x="854.3" y="78.3" width="2.3" height="3.299999999999997" fill="#1c1c1c" stroke="#b4b4b4" stroke-width="0.8"/>
<line x1="859.2" y1="76.4" x2="859.2" y2="79.7" stroke="#b4b4b4" stroke-width="1"/>
<rect x="858.1" y="77.2" width="2.3" height="1.7000000000000028" fill="#1c1c1c" stroke="#b4b4b4" stroke-width="0.8"/>
<line x1="863.1" y1="70.8" x2="863.1" y2="77.5" stroke="#b4b4b4" stroke-width="1"/>
<rect x="861.9" y="71.6" width="2.3" height="5.1000000000000085" fill="#1c1c1c" stroke="#b4b4b4" stroke-width="0.8"/>
<line x1="866.9" y1="68.3" x2="866.9" y2="74.2" stroke="#4585f5" stroke-width="1"/>
<rect x="865.2" y="71.4" width="3.3" height="2.1999999999999886" fill="#4585f5"/>
<line x1="870.7" y1="77.6" x2="870.7" y2="85.3" stroke="#b4b4b4" stroke-width="1"/>
<rect x="869.6" y="80.3" width="2.3" height="4.400000000000006" fill="#1c1c1c" stroke="#b4b4b4" stroke-width="0.8"/>
<line x1="874.6" y1="75" x2="874.6" y2="80.3" stroke="#b4b4b4" stroke-width="1"/>
<rect x="873.4" y="75.6" width="2.3" height="3.3000000000000114" fill="#1c1c1c" stroke="#b4b4b4" stroke-width="0.8"/>
<line x1="878.4" y1="73.5" x2="878.4" y2="77.6" stroke="#b4b4b4" stroke-width="1"/>
<rect x="877.2" y="74" width="2.3" height="2.299999999999997" fill="#1c1c1c" stroke="#b4b4b4" stroke-width="0.8"/>
<line x1="882.2" y1="73.10000000000001" x2="882.2" y2="79.3" stroke="#4585f5" stroke-width="1"/>
<rect x="880.6" y="73.9" width="3.3" height="4.599999999999994" fill="#4585f5"/>
<line x1="886.0" y1="79.6" x2="886.0" y2="84.5" stroke="#4585f5" stroke-width="1"/>
<rect x="884.4" y="80.5" width="3.3" height="2.0" fill="#4585f5"/>
<line x1="889.9" y1="83.6" x2="889.9" y2="88.5" stroke="#b4b4b4" stroke-width="1"/>
<rect x="888.7" y="84.2" width="2.3" height="3.0" fill="#1c1c1c" stroke="#b4b4b4" stroke-width="0.8"/>
<line x1="893.7" y1="69.8" x2="893.7" y2="76.0" stroke="#b4b4b4" stroke-width="1"/>
<rect x="892.5" y="70.6" width="2.3" height="4.6000000000000085" fill="#1c1c1c" stroke="#b4b4b4" stroke-width="0.8"/>
<line x1="897.5" y1="66.5" x2="897.5" y2="72.4" stroke="#4585f5" stroke-width="1"/>
<rect x="895.9" y="68.6" width="3.3" height="3.3000000000000114" fill="#4585f5"/>
<line x1="901.4" y1="70.2" x2="901.4" y2="73.1" stroke="#4585f5" stroke-width="1"/>
<rect x="899.7" y="71" width="3.3" height="1.2999999999999972" fill="#4585f5"/>
<line x1="905.2" y1="69.4" x2="905.2" y2="73.2" stroke="#b4b4b4" stroke-width="1"/>
<rect x="904.0" y="69.9" width="2.3" height="1.5999999999999943" fill="#1c1c1c" stroke="#b4b4b4" stroke-width="0.8"/>
<line x1="909.0" y1="71.10000000000001" x2="909.0" y2="74.7" stroke="#4585f5" stroke-width="1"/>
<rect x="907.4" y="71.9" width="3.3" height="2.0" fill="#4585f5"/>
<line x1="912.8" y1="67.2" x2="912.8" y2="72.4" stroke="#b4b4b4" stroke-width="1"/>
<rect x="911.7" y="68.6" width="2.3" height="3.3000000000000114" fill="#1c1c1c" stroke="#b4b4b4" stroke-width="0.8"/>
<line x1="916.7" y1="61.800000000000004" x2="916.7" y2="69.39999999999999" stroke="#b4b4b4" stroke-width="1"/>
<rect x="915.5" y="62.6" width="2.3" height="5.999999999999993" fill="#1c1c1c" stroke="#b4b4b4" stroke-width="0.8"/>
<line x1="920.5" y1="62.400000000000006" x2="920.5" y2="66.0" stroke="#4585f5" stroke-width="1"/>
<rect x="918.8" y="63.2" width="3.3" height="2.0" fill="#4585f5"/>
<line x1="924.3" y1="69" x2="924.3" y2="75.9" stroke="#4585f5" stroke-width="1"/>
<rect x="922.7" y="69.6" width="3.3" height="4.300000000000011" fill="#4585f5"/>
<line x1="928.1" y1="68" x2="928.1" y2="73.2" stroke="#4585f5" stroke-width="1"/>
<rect x="926.5" y="68.6" width="3.3" height="2.0" fill="#4585f5"/>
<line x1="932.0" y1="61.800000000000004" x2="932.0" y2="68.7" stroke="#b4b4b4" stroke-width="1"/>
<rect x="930.8" y="62.6" width="2.3" height="5.300000000000004" fill="#1c1c1c" stroke="#b4b4b4" stroke-width="0.8"/>
<line x1="935.8" y1="57.3" x2="935.8" y2="69.8" stroke="#4585f5" stroke-width="1"/>
<rect x="934.2" y="61.9" width="3.3" height="7.300000000000004" fill="#4585f5"/>
<line x1="939.6" y1="68.4" x2="939.6" y2="72.0" stroke="#4585f5" stroke-width="1"/>
<rect x="938.0" y="69.2" width="3.3" height="2.0" fill="#4585f5"/>
<line x1="943.5" y1="63.3" x2="943.5" y2="70.6" stroke="#b4b4b4" stroke-width="1"/>
<rect x="942.3" y="63.9" width="2.3" height="4.000000000000007" fill="#1c1c1c" stroke="#b4b4b4" stroke-width="0.8"/>
<line x1="947.3" y1="64.0" x2="947.3" y2="67.39999999999999" stroke="#4585f5" stroke-width="1"/>
<rect x="945.6" y="64.8" width="3.3" height="1.7999999999999972" fill="#4585f5"/>
<line x1="951.1" y1="64" x2="951.1" y2="70.6" stroke="#4585f5" stroke-width="1"/>
<rect x="949.5" y="64.6" width="3.3" height="3.3000000000000114" fill="#4585f5"/>
<line x1="954.9" y1="69.4" x2="954.9" y2="73.6" stroke="#4585f5" stroke-width="1"/>
<rect x="953.3" y="70.2" width="3.3" height="2.5999999999999943" fill="#4585f5"/>
<line x1="958.8" y1="65.10000000000001" x2="958.8" y2="69.39999999999999" stroke="#4585f5" stroke-width="1"/>
<rect x="957.1" y="65.9" width="3.3" height="2.6999999999999886" fill="#4585f5"/>
<line x1="962.6" y1="66" x2="962.6" y2="73.2" stroke="#b4b4b4" stroke-width="1"/>
<rect x="961.5" y="66.6" width="2.3" height="4.400000000000006" fill="#1c1c1c" stroke="#b4b4b4" stroke-width="0.8"/>
<line x1="966.4" y1="59.1" x2="966.4" y2="67.39999999999999" stroke="#b4b4b4" stroke-width="1"/>
<rect x="965.3" y="59.9" width="2.3" height="6.699999999999996" fill="#1c1c1c" stroke="#b4b4b4" stroke-width="0.8"/>
<line x1="970.3" y1="54.5" x2="970.3" y2="60.3" stroke="#4585f5" stroke-width="1"/>
<rect x="968.6" y="55.3" width="3.3" height="4.200000000000003" fill="#4585f5"/>
<line x1="974.1" y1="56.4" x2="974.1" y2="60.3" stroke="#b4b4b4" stroke-width="1"/>
<rect x="972.9" y="57.7" width="2.3" height="2.1999999999999957" fill="#1c1c1c" stroke="#b4b4b4" stroke-width="0.8"/>
<path d="M5.5 202.3L3.2 208.6M5.5 202.3L8.6 208.6" stroke="#c02a1a" stroke-width="1.2" fill="none"/>
<text xml:space="preserve" x="2" y="54.3" font-size="8.6" fill="#d23322" text-anchor="start" textLength="13.5" lengthAdjust="spacingAndGlyphs">100%</text>
<text xml:space="preserve" x="990.3" y="54.0" font-size="9.2" fill="#d23322" text-anchor="end" textLength="26.5" lengthAdjust="spacingAndGlyphs">16538.87</text>
<text xml:space="preserve" x="2" y="90.5" font-size="8.6" fill="#858585" text-anchor="start" textLength="17" lengthAdjust="spacingAndGlyphs">76.4%</text>
<text xml:space="preserve" x="990.3" y="90.2" font-size="9.2" fill="#858585" text-anchor="end" textLength="26.5" lengthAdjust="spacingAndGlyphs">15361.66</text>
<text xml:space="preserve" x="2" y="112.9" font-size="8.6" fill="#78aa30" text-anchor="start" textLength="17" lengthAdjust="spacingAndGlyphs">61.8%</text>
<text xml:space="preserve" x="990.3" y="112.6" font-size="9.2" fill="#78aa30" text-anchor="end" textLength="26.5" lengthAdjust="spacingAndGlyphs">14633.38</text>
<text xml:space="preserve" x="2" y="131.0" font-size="8.6" fill="#58b4bc" text-anchor="start" textLength="10.5" lengthAdjust="spacingAndGlyphs">50%</text>
<text xml:space="preserve" x="990.3" y="130.7" font-size="9.2" fill="#58b4bc" text-anchor="end" textLength="26.5" lengthAdjust="spacingAndGlyphs">14044.78</text>
<text xml:space="preserve" x="2" y="149.1" font-size="8.6" fill="#78aa30" text-anchor="start" textLength="17" lengthAdjust="spacingAndGlyphs">38.2%</text>
<text xml:space="preserve" x="990.3" y="148.8" font-size="9.2" fill="#78aa30" text-anchor="end" textLength="26.5" lengthAdjust="spacingAndGlyphs">13456.17</text>
<text xml:space="preserve" x="2" y="171.5" font-size="8.6" fill="#858585" text-anchor="start" textLength="17" lengthAdjust="spacingAndGlyphs">23.6%</text>
<text xml:space="preserve" x="990.3" y="171.2" font-size="9.2" fill="#858585" text-anchor="end" textLength="26.5" lengthAdjust="spacingAndGlyphs">12727.90</text>
<text xml:space="preserve" x="990.3" y="207.4" font-size="9.2" fill="#d23322" text-anchor="end" textLength="26.5" lengthAdjust="spacingAndGlyphs">11550.69</text>
<line x1="0" y1="265.2" x2="991.5" y2="265.2" stroke="#741c0d" stroke-width="1.6"/>
<line x1="0" y1="290.8" x2="991.5" y2="290.8" stroke="#2f7a14" stroke-width="1.6"/>
<clipPath id="c70"><rect x="0" y="238" width="992" height="27.2"/></clipPath>
<polygon points="0.7,265.2 0.7,274.6 5.3,271.2 9.3,275.2 14.6,273.6 18.6,273.6 24.6,275.5 28.6,271.2 32.5,269.3 35.9,267.0 39.8,267.9 43.8,269.9 47.8,273.2 53.1,271.5 57.1,272.3 62.4,275.9 67.1,271.2 71.7,271.9 77.0,271.5 81.0,271.6 85.7,274.3 90.3,274.3 93.0,275.9 97.6,281.6 100.9,280.5 104.9,273.2 108.9,271.2 112.9,272.6 116.9,275.9 120.2,277.2 124.2,278.6 128.2,272.6 130.0,272.6 135.3,274.6 140.0,271.2 143.3,271.0 147.3,272.8 151.2,271.2 155.2,271.2 161.2,265.7 165.2,266.2 169.8,265.3 173.8,270.6 177.8,272.8 181.8,267.9 185.8,264.3 189.1,264.3 193.1,267.0 196.4,264.9 199.7,263.5 203.7,263.3 208.4,262.6 211.7,267.9 216.3,266.6 220.3,265.3 224.3,262.6 228.3,261.7 234.3,260.0 237.6,262.2 242.9,263.9 246.9,268.6 250.2,266.6 254.2,271.2 257.5,274.6 260.0,272.6 262.0,270.6 269.3,270.3 273.3,267.0 279.9,267.3 283.9,269.9 287.9,271.2 295.2,269.7 299.2,266.2 303.2,263.0 306.5,263.9 310.5,262.6 314.5,261.3 319.1,261.3 322.4,269.9 326.4,271.2 330.4,270.6 334.4,269.3 338.4,270.2 342.3,271.9 346.3,267.0 350.3,266.6 353.6,268.6 357.6,276.6 361.6,277.6 365.6,279.0 368.9,277.2 372.9,279.9 376.9,282.5 380.2,281.9 384.2,283.5 387.8,280.5 390.0,281.6 395.3,285.9 399.3,288.8 402.6,288.8 407.3,283.2 410.6,282.5 414.6,277.9 418.6,282.5 425.2,277.9 429.8,273.2 433.2,272.3 444.5,272.3 448.4,275.9 452.4,279.0 456.4,278.6 460.4,274.6 464.4,278.2 468.4,277.2 471.7,274.6 475.7,279.5 482.3,280.3 487.0,284.5 490.9,288.5 494.9,289.2 498.9,287.2 502.9,289.6 506.9,288.5 510.9,285.9 514.2,284.8 518.2,282.5 520.0,285.2 522.0,286.9 525.3,283.2 529.3,282.9 533.3,277.9 537.3,276.6 541.2,274.6 545.2,273.2 548.6,275.5 551.9,279.0 555.9,275.9 559.8,276.6 563.8,281.6 567.8,283.5 571.8,286.5 575.1,285.6 578.4,283.2 582.4,287.9 586.4,290.5 590.4,288.8 594.4,285.6 598.4,283.9 602.3,279.9 606.3,275.2 610.3,272.3 614.3,271.9 618.3,270.6 622.3,271.2 624.9,273.6 628.9,269.7 632.9,269.9 636.9,265.9 640.9,265.7 647.5,265.7 650.0,264.3 652.0,263.5 655.3,266.2 659.3,265.3 663.3,265.9 667.3,266.2 671.2,265.3 674.6,266.2 678.6,267.0 681.9,265.7 685.2,269.3 689.2,269.7 693.8,272.3 697.8,268.6 701.8,266.6 705.8,265.9 709.1,263.9 712.4,262.0 716.4,261.3 721.7,260.0 728.4,258.6 731.7,266.6 735.0,264.6 740.3,263.0 744.3,262.4 751.6,262.6 754.9,265.9 758.2,272.6 761.6,277.2 766.9,280.5 770.9,279.2 774.2,273.2 777.5,271.9 780.0,271.5 785.3,270.6 790.0,270.2 793.3,271.2 797.0,274.6 801.2,269.3 805.2,265.3 810.5,263.9 815.9,263.0 819.8,262.2 823.8,263.9 827.8,262.6 831.1,265.9 835.1,275.9 839.1,271.9 843.8,268.3 847.1,269.3 850.4,269.3 855.7,266.6 859.7,265.3 863.0,263.9 866.3,265.3 870.3,272.6 874.3,269.3 877.6,269.0 880.9,271.9 884.9,275.2 888.9,275.5 892.9,269.3 896.9,269.9 900.9,270.2 904.2,269.9 908.2,271.2 912.8,268.6 915.9,267.0 919.9,268.9 923.2,274.6 927.2,273.2 930.5,269.9 934.5,273.2 938.5,274.6 942.5,271.2 946.4,273.2 949.8,273.9 953.7,277.2 957.1,275.2 960.4,274.2 965.7,270.3 973.0,270.3 973.0,265.2" fill="#a06060" fill-opacity="0.8" clip-path="url(#c70)"/>
<polyline points="0.7,274.6 5.3,271.2 9.3,275.2 14.6,273.6 18.6,273.6 24.6,275.5 28.6,271.2 32.5,269.3 35.9,267.0 39.8,267.9 43.8,269.9 47.8,273.2 53.1,271.5 57.1,272.3 62.4,275.9 67.1,271.2 71.7,271.9 77.0,271.5 81.0,271.6 85.7,274.3 90.3,274.3 93.0,275.9 97.6,281.6 100.9,280.5 104.9,273.2 108.9,271.2 112.9,272.6 116.9,275.9 120.2,277.2 124.2,278.6 128.2,272.6 130.0,272.6 135.3,274.6 140.0,271.2 143.3,271.0 147.3,272.8 151.2,271.2 155.2,271.2 161.2,265.7 165.2,266.2 169.8,265.3 173.8,270.6 177.8,272.8 181.8,267.9 185.8,264.3 189.1,264.3 193.1,267.0 196.4,264.9 199.7,263.5 203.7,263.3 208.4,262.6 211.7,267.9 216.3,266.6 220.3,265.3 224.3,262.6 228.3,261.7 234.3,260.0 237.6,262.2 242.9,263.9 246.9,268.6 250.2,266.6 254.2,271.2 257.5,274.6 260.0,272.6 262.0,270.6 269.3,270.3 273.3,267.0 279.9,267.3 283.9,269.9 287.9,271.2 295.2,269.7 299.2,266.2 303.2,263.0 306.5,263.9 310.5,262.6 314.5,261.3 319.1,261.3 322.4,269.9 326.4,271.2 330.4,270.6 334.4,269.3 338.4,270.2 342.3,271.9 346.3,267.0 350.3,266.6 353.6,268.6 357.6,276.6 361.6,277.6 365.6,279.0 368.9,277.2 372.9,279.9 376.9,282.5 380.2,281.9 384.2,283.5 387.8,280.5 390.0,281.6 395.3,285.9 399.3,288.8 402.6,288.8 407.3,283.2 410.6,282.5 414.6,277.9 418.6,282.5 425.2,277.9 429.8,273.2 433.2,272.3 444.5,272.3 448.4,275.9 452.4,279.0 456.4,278.6 460.4,274.6 464.4,278.2 468.4,277.2 471.7,274.6 475.7,279.5 482.3,280.3 487.0,284.5 490.9,288.5 494.9,289.2 498.9,287.2 502.9,289.6 506.9,288.5 510.9,285.9 514.2,284.8 518.2,282.5 520.0,285.2 522.0,286.9 525.3,283.2 529.3,282.9 533.3,277.9 537.3,276.6 541.2,274.6 545.2,273.2 548.6,275.5 551.9,279.0 555.9,275.9 559.8,276.6 563.8,281.6 567.8,283.5 571.8,286.5 575.1,285.6 578.4,283.2 582.4,287.9 586.4,290.5 590.4,288.8 594.4,285.6 598.4,283.9 602.3,279.9 606.3,275.2 610.3,272.3 614.3,271.9 618.3,270.6 622.3,271.2 624.9,273.6 628.9,269.7 632.9,269.9 636.9,265.9 640.9,265.7 647.5,265.7 650.0,264.3 652.0,263.5 655.3,266.2 659.3,265.3 663.3,265.9 667.3,266.2 671.2,265.3 674.6,266.2 678.6,267.0 681.9,265.7 685.2,269.3 689.2,269.7 693.8,272.3 697.8,268.6 701.8,266.6 705.8,265.9 709.1,263.9 712.4,262.0 716.4,261.3 721.7,260.0 728.4,258.6 731.7,266.6 735.0,264.6 740.3,263.0 744.3,262.4 751.6,262.6 754.9,265.9 758.2,272.6 761.6,277.2 766.9,280.5 770.9,279.2 774.2,273.2 777.5,271.9 780.0,271.5 785.3,270.6 790.0,270.2 793.3,271.2 797.0,274.6 801.2,269.3 805.2,265.3 810.5,263.9 815.9,263.0 819.8,262.2 823.8,263.9 827.8,262.6 831.1,265.9 835.1,275.9 839.1,271.9 843.8,268.3 847.1,269.3 850.4,269.3 855.7,266.6 859.7,265.3 863.0,263.9 866.3,265.3 870.3,272.6 874.3,269.3 877.6,269.0 880.9,271.9 884.9,275.2 888.9,275.5 892.9,269.3 896.9,269.9 900.9,270.2 904.2,269.9 908.2,271.2 912.8,268.6 915.9,267.0 919.9,268.9 923.2,274.6 927.2,273.2 930.5,269.9 934.5,273.2 938.5,274.6 942.5,271.2 946.4,273.2 949.8,273.9 953.7,277.2 957.1,275.2 960.4,274.2 965.7,270.3 973.0,270.3" fill="none" stroke="#b4b4b4" stroke-width="1.25" stroke-linejoin="round"/>
<polygon points="0.5,359.6 5.6,357.1 9.4,355.4 13.3,354.0 17.1,352.6 20.9,351.5 24.7,350.4 28.6,349.0 32.4,347.4 36.2,345.7 40.1,345.0 43.9,344.6 47.7,344.8 51.5,344.9 55.4,345.3 59.2,345.8 63.0,346.2 66.8,346.4 70.7,346.8 74.5,347.1 74.5,347.3 70.7,347.3 66.8,347.3 63.0,347.4 59.2,347.6 55.4,347.7 51.5,348.3 47.7,348.8 43.9,349.6 40.1,350.5 36.2,351.5 32.4,352.7 28.6,353.9 24.7,355.0 20.9,355.8 17.1,356.6 13.3,357.4 9.4,358.2 5.6,358.9 0.5,359.8" fill="#7a7a7a"/>
<polygon points="74.5,347.1 78.3,347.5 82.2,347.7 86.0,347.8 89.8,347.9 93.6,350.0 97.5,352.4 101.3,354.6 105.1,354.3 109.0,353.4 112.8,352.6 116.6,353.3 120.4,354.2 124.3,355.6 128.1,354.3 131.9,353.3 131.9,353.7 128.1,353.4 124.3,353.1 120.4,352.8 116.6,352.4 112.8,352.2 109.0,352.2 105.1,351.4 101.3,350.5 97.5,348.9 93.6,348.0 89.8,347.6 86.0,347.5 82.2,347.4 78.3,347.3 74.5,347.3" fill="#86322a"/>
<polygon points="131.9,353.3 135.8,352.4 139.6,351.6 143.4,350.9 147.2,350.5 151.1,349.9 154.9,348.7 158.7,347.2 162.5,345.2 166.4,344.0 170.2,343.0 174.0,343.5 177.9,343.8 181.7,343.6 185.5,340.8 189.3,339.1 193.2,337.9 197.0,336.0 200.8,334.1 204.7,332.2 208.5,332.0 212.3,332.3 216.1,332.3 220.0,331.6 223.8,330.2 227.6,328.7 231.5,327.3 235.3,326.0 239.1,325.9 242.9,326.5 246.8,327.6 250.6,329.3 250.6,329.2 246.8,329.0 242.9,329.0 239.1,329.7 235.3,330.6 231.5,331.8 227.6,332.9 223.8,334.0 220.0,334.9 216.1,335.7 212.3,336.6 208.5,337.5 204.7,338.5 200.8,339.6 197.0,340.8 193.2,342.1 189.3,343.4 185.5,344.5 181.7,345.5 177.9,346.2 174.0,347.0 170.2,347.8 166.4,348.7 162.5,349.7 158.7,350.7 154.9,351.5 151.1,352.1 147.2,352.4 143.4,352.6 139.6,352.9 135.8,353.3 131.9,353.7" fill="#7a7a7a"/>
<polygon points="250.6,329.3 254.4,331.6 258.2,333.8 262.1,334.9 265.9,336.1 269.7,337.5 273.6,337.1 277.4,336.8 281.2,337.0 285.0,338.0 288.9,339.3 292.7,340.2 296.5,340.5 300.4,339.6 304.2,337.5 304.2,337.8 300.4,338.1 296.5,338.2 292.7,337.6 288.9,336.7 285.0,335.6 281.2,334.8 277.4,334.4 273.6,334.2 269.7,333.9 265.9,332.5 262.1,331.6 258.2,330.7 254.4,330.0 250.6,329.2" fill="#86322a"/>
<polygon points="304.2,337.5 308.0,336.0 311.8,334.4 315.7,332.6 319.5,331.2 323.3,333.3 327.2,335.1 327.2,335.3 323.3,335.0 319.5,335.2 315.7,335.7 311.8,336.7 308.0,337.3 304.2,337.8" fill="#7a7a7a"/>
<polygon points="327.2,335.1 331.0,336.7 334.8,338.2 338.6,339.4 342.5,340.5 346.3,340.1 350.1,339.8 353.9,340.3 357.8,343.2 361.6,346.1 365.4,348.7 369.3,351.1 373.1,353.3 376.9,355.8 380.7,358.4 384.6,361.3 388.4,362.8 392.2,365.4 396.1,368.6 399.9,371.0 403.7,372.6 407.5,373.3 411.4,372.6 415.2,371.5 419.0,370.9 422.9,369.9 422.9,369.3 419.0,368.8 415.2,368.0 411.4,367.1 407.5,366.0 403.7,364.4 399.9,362.1 396.1,359.3 392.2,356.9 388.4,355.2 384.6,353.0 380.7,350.8 376.9,348.6 373.1,346.5 369.3,344.4 365.4,342.5 361.6,341.0 357.8,339.8 353.9,338.9 350.1,338.6 346.3,338.2 342.5,337.7 338.6,337.3 334.8,336.6 331.0,335.9 327.2,335.3" fill="#86322a"/>
<polygon points="422.9,369.9 426.7,367.9 430.5,365.0 434.3,362.1 438.2,359.5 442.0,357.6 445.8,356.9 449.6,357.4 453.5,357.5 457.3,357.5 461.1,357.2 465.0,357.6 468.8,357.9 472.6,358.0 476.4,359.0 476.4,359.0 472.6,358.9 468.8,358.9 465.0,359.0 461.1,359.3 457.3,359.7 453.5,360.4 449.6,361.2 445.8,362.2 442.0,363.6 438.2,365.3 434.3,367.1 430.5,368.3 426.7,369.1 422.9,369.3" fill="#7a7a7a"/>
<polygon points="476.4,359.0 480.3,360.1 484.1,361.7 487.9,364.6 491.8,367.9 495.6,371.0 499.4,373.8 503.2,376.2 507.1,377.9 510.9,378.6 514.7,377.9 518.6,378.1 522.4,378.0 526.2,377.6 530.0,376.3 530.0,375.5 526.2,375.5 522.4,374.7 518.6,373.8 514.7,372.8 510.9,371.3 507.1,369.6 503.2,367.7 499.4,365.8 495.6,363.8 491.8,362.1 487.9,360.5 484.1,359.8 480.3,359.3 476.4,359.0" fill="#86322a"/>
<polygon points="530.0,376.3 533.9,373.7 537.7,370.8 541.5,368.0 545.3,365.6 549.2,364.5 553.0,363.8 556.8,362.6 560.7,363.1 564.5,364.3 568.3,365.8 568.3,366.5 564.5,366.3 560.7,366.5 556.8,367.3 553.0,368.5 549.2,369.8 545.3,371.3 541.5,372.7 537.7,373.9 533.9,374.8 530.0,375.5" fill="#7a7a7a"/>
<polygon points="568.3,365.8 572.1,368.2 576.0,369.9 579.8,372.2 583.6,376.0 587.5,378.6 591.3,380.2 595.1,380.6 598.9,379.6 602.8,376.8 602.8,375.7 598.9,375.9 595.1,375.0 591.3,373.8 587.5,372.4 583.6,370.8 579.8,369.3 576.0,368.2 572.1,367.3 568.3,366.5" fill="#86322a"/>
<polygon points="602.8,376.8 606.6,373.0 610.4,368.7 614.3,364.9 618.1,361.4 621.9,358.1 625.7,355.3 629.6,352.0 633.4,348.4 637.2,344.7 641.0,341.8 644.9,339.3 648.7,337.2 652.5,335.5 656.4,334.1 660.2,333.4 664.0,333.4 667.8,333.5 671.7,333.7 675.5,334.2 679.3,334.6 683.2,335.4 687.0,336.6 687.0,336.7 683.2,336.4 679.3,336.3 675.5,336.5 671.7,337.1 667.8,337.9 664.0,338.9 660.2,340.1 656.4,342.3 652.5,345.0 648.7,348.3 644.9,351.2 641.0,353.7 637.2,356.6 633.4,359.5 629.6,362.1 625.7,364.5 621.9,366.9 618.1,369.3 614.3,371.5 610.4,373.4 606.6,374.9 602.8,375.7" fill="#7a7a7a"/>
<polygon points="687.0,336.6 690.8,338.2 694.6,340.0 698.5,340.0 702.3,339.6 706.1,338.9 710.0,337.9 710.0,338.1 706.1,338.4 702.3,338.5 698.5,338.3 694.6,337.9 690.8,337.3 687.0,336.7" fill="#86322a"/>
<polygon points="710.0,337.9 713.8,336.5 717.6,334.9 721.4,333.3 725.3,331.7 729.1,331.1 732.9,331.3 736.7,330.7 740.6,330.3 744.4,329.9 748.2,329.7 752.1,330.6 752.1,331.4 748.2,331.6 744.4,332.1 740.6,332.7 736.7,333.1 732.9,333.7 729.1,334.4 725.3,335.2 721.4,336.1 717.6,336.9 713.8,337.6 710.0,338.1" fill="#7a7a7a"/>
<polygon points="752.1,330.6 755.9,332.7 759.7,335.8 763.5,339.6 767.4,343.8 771.2,346.9 775.0,347.1 778.9,346.9 782.7,346.7 786.5,346.5 790.3,346.5 794.2,347.2 798.0,347.4 801.8,346.2 805.7,343.8 805.7,344.5 801.8,345.4 798.0,345.6 794.2,345.3 790.3,344.6 786.5,343.6 782.7,342.5 778.9,341.3 775.0,340.0 771.2,338.5 767.4,336.5 763.5,334.4 759.7,332.7 755.9,331.6 752.1,331.4" fill="#86322a"/>
<polygon points="805.7,343.8 809.5,341.5 813.3,339.6 817.1,338.1 821.0,337.0 824.8,336.4 828.6,335.5 832.4,336.5 836.3,338.8 836.3,338.9 832.4,339.0 828.6,339.3 824.8,339.9 821.0,340.7 817.1,341.6 813.3,342.6 809.5,343.5 805.7,344.5" fill="#7a7a7a"/>
<polygon points="836.3,338.8 840.1,339.5 843.9,339.3 847.8,338.8 851.6,338.3 851.6,338.0 847.8,338.4 843.9,338.7 840.1,338.9 836.3,338.9" fill="#86322a"/>
<polygon points="851.6,338.3 855.4,336.8 859.2,334.8 863.1,333.8 866.9,334.0 870.7,335.5 874.6,336.1 878.4,336.4 878.4,336.6 874.6,336.4 870.7,336.3 866.9,336.3 863.1,336.5 859.2,337.0 855.4,337.5 851.6,338.0" fill="#7a7a7a"/>
<polygon points="878.4,336.4 882.2,337.4 886.0,339.8 889.9,341.7 893.7,340.6 897.5,340.0 901.4,339.9 905.2,340.0 909.0,340.2 912.8,339.3 912.8,339.3 909.0,339.5 905.2,339.5 901.4,339.3 897.5,339.0 893.7,338.5 889.9,338.1 886.0,337.6 882.2,336.9 878.4,336.6" fill="#86322a"/>
<polygon points="912.8,339.3 916.7,338.3 920.5,338.5 920.5,339.0 916.7,339.2 912.8,339.3" fill="#7a7a7a"/>
<polygon points="920.5,338.5 924.3,340.0 928.1,340.7 932.0,341.5 935.8,342.3 939.6,343.3 943.5,343.7 947.3,344.4 951.1,345.4 954.9,346.7 958.8,347.4 962.6,347.4 966.4,346.2 970.3,345.3 970.3,345.1 966.4,345.2 962.6,345.2 958.8,344.6 954.9,344.0 951.1,343.2 947.3,342.4 943.5,341.8 939.6,341.2 935.8,340.7 932.0,340.1 928.1,339.6 924.3,339.3 920.5,339.0" fill="#86322a"/>
<polygon points="970.3,345.3 974.1,344.7 974.1,344.9 970.3,345.1" fill="#7a7a7a"/>
<polyline points="0.5,359.6 5.6,357.1 9.4,355.4 13.3,354.0 17.1,352.6 20.9,351.5 24.7,350.4 28.6,349.0 32.4,347.4 36.2,345.7 40.1,345.0 43.9,344.6 47.7,344.8 51.5,344.9 55.4,345.3 59.2,345.8 63.0,346.2 66.8,346.4 70.7,346.8 74.5,347.1 78.3,347.5 82.2,347.7 86.0,347.8 89.8,347.9 93.6,350.0 97.5,352.4 101.3,354.6 105.1,354.3 109.0,353.4 112.8,352.6 116.6,353.3 120.4,354.2 124.3,355.6 128.1,354.3 131.9,353.3 135.8,352.4 139.6,351.6 143.4,350.9 147.2,350.5 151.1,349.9 154.9,348.7 158.7,347.2 162.5,345.2 166.4,344.0 170.2,343.0 174.0,343.5 177.9,343.8 181.7,343.6 185.5,340.8 189.3,339.1 193.2,337.9 197.0,336.0 200.8,334.1 204.7,332.2 208.5,332.0 212.3,332.3 216.1,332.3 220.0,331.6 223.8,330.2 227.6,328.7 231.5,327.3 235.3,326.0 239.1,325.9 242.9,326.5 246.8,327.6 250.6,329.3 254.4,331.6 258.2,333.8 262.1,334.9 265.9,336.1 269.7,337.5 273.6,337.1 277.4,336.8 281.2,337.0 285.0,338.0 288.9,339.3 292.7,340.2 296.5,340.5 300.4,339.6 304.2,337.5 308.0,336.0 311.8,334.4 315.7,332.6 319.5,331.2 323.3,333.3 327.2,335.1 331.0,336.7 334.8,338.2 338.6,339.4 342.5,340.5 346.3,340.1 350.1,339.8 353.9,340.3 357.8,343.2 361.6,346.1 365.4,348.7 369.3,351.1 373.1,353.3 376.9,355.8 380.7,358.4 384.6,361.3 388.4,362.8 392.2,365.4 396.1,368.6 399.9,371.0 403.7,372.6 407.5,373.3 411.4,372.6 415.2,371.5 419.0,370.9 422.9,369.9 426.7,367.9 430.5,365.0 434.3,362.1 438.2,359.5 442.0,357.6 445.8,356.9 449.6,357.4 453.5,357.5 457.3,357.5 461.1,357.2 465.0,357.6 468.8,357.9 472.6,358.0 476.4,359.0 480.3,360.1 484.1,361.7 487.9,364.6 491.8,367.9 495.6,371.0 499.4,373.8 503.2,376.2 507.1,377.9 510.9,378.6 514.7,377.9 518.6,378.1 522.4,378.0 526.2,377.6 530.0,376.3 533.9,373.7 537.7,370.8 541.5,368.0 545.3,365.6 549.2,364.5 553.0,363.8 556.8,362.6 560.7,363.1 564.5,364.3 568.3,365.8 572.1,368.2 576.0,369.9 579.8,372.2 583.6,376.0 587.5,378.6 591.3,380.2 595.1,380.6 598.9,379.6 602.8,376.8 606.6,373.0 610.4,368.7 614.3,364.9 618.1,361.4 621.9,358.1 625.7,355.3 629.6,352.0 633.4,348.4 637.2,344.7 641.0,341.8 644.9,339.3 648.7,337.2 652.5,335.5 656.4,334.1 660.2,333.4 664.0,333.4 667.8,333.5 671.7,333.7 675.5,334.2 679.3,334.6 683.2,335.4 687.0,336.6 690.8,338.2 694.6,340.0 698.5,340.0 702.3,339.6 706.1,338.9 710.0,337.9 713.8,336.5 717.6,334.9 721.4,333.3 725.3,331.7 729.1,331.1 732.9,331.3 736.7,330.7 740.6,330.3 744.4,329.9 748.2,329.7 752.1,330.6 755.9,332.7 759.7,335.8 763.5,339.6 767.4,343.8 771.2,346.9 775.0,347.1 778.9,346.9 782.7,346.7 786.5,346.5 790.3,346.5 794.2,347.2 798.0,347.4 801.8,346.2 805.7,343.8 809.5,341.5 813.3,339.6 817.1,338.1 821.0,337.0 824.8,336.4 828.6,335.5 832.4,336.5 836.3,338.8 840.1,339.5 843.9,339.3 847.8,338.8 851.6,338.3 855.4,336.8 859.2,334.8 863.1,333.8 866.9,334.0 870.7,335.5 874.6,336.1 878.4,336.4 882.2,337.4 886.0,339.8 889.9,341.7 893.7,340.6 897.5,340.0 901.4,339.9 905.2,340.0 909.0,340.2 912.8,339.3 916.7,338.3 920.5,338.5 924.3,340.0 928.1,340.7 932.0,341.5 935.8,342.3 939.6,343.3 943.5,343.7 947.3,344.4 951.1,345.4 954.9,346.7 958.8,347.4 962.6,347.4 966.4,346.2 970.3,345.3 974.1,344.7" fill="none" stroke="#c4c4c4" stroke-width="1.0" stroke-linejoin="round"/>
<polyline points="0.5,359.8 5.6,358.9 9.4,358.2 13.3,357.4 17.1,356.6 20.9,355.8 24.7,355.0 28.6,353.9 32.4,352.7 36.2,351.5 40.1,350.5 43.9,349.6 47.7,348.8 51.5,348.3 55.4,347.7 59.2,347.6 63.0,347.4 66.8,347.3 70.7,347.3 74.5,347.3 78.3,347.3 82.2,347.4 86.0,347.5 89.8,347.6 93.6,348.0 97.5,348.9 101.3,350.5 105.1,351.4 109.0,352.2 112.8,352.2 116.6,352.4 120.4,352.8 124.3,353.1 128.1,353.4 131.9,353.7 135.8,353.3 139.6,352.9 143.4,352.6 147.2,352.4 151.1,352.1 154.9,351.5 158.7,350.7 162.5,349.7 166.4,348.7 170.2,347.8 174.0,347.0 177.9,346.2 181.7,345.5 185.5,344.5 189.3,343.4 193.2,342.1 197.0,340.8 200.8,339.6 204.7,338.5 208.5,337.5 212.3,336.6 216.1,335.7 220.0,334.9 223.8,334.0 227.6,332.9 231.5,331.8 235.3,330.6 239.1,329.7 242.9,329.0 246.8,329.0 250.6,329.2 254.4,330.0 258.2,330.7 262.1,331.6 265.9,332.5 269.7,333.9 273.6,334.2 277.4,334.4 281.2,334.8 285.0,335.6 288.9,336.7 292.7,337.6 296.5,338.2 300.4,338.1 304.2,337.8 308.0,337.3 311.8,336.7 315.7,335.7 319.5,335.2 323.3,335.0 327.2,335.3 331.0,335.9 334.8,336.6 338.6,337.3 342.5,337.7 346.3,338.2 350.1,338.6 353.9,338.9 357.8,339.8 361.6,341.0 365.4,342.5 369.3,344.4 373.1,346.5 376.9,348.6 380.7,350.8 384.6,353.0 388.4,355.2 392.2,356.9 396.1,359.3 399.9,362.1 403.7,364.4 407.5,366.0 411.4,367.1 415.2,368.0 419.0,368.8 422.9,369.3 426.7,369.1 430.5,368.3 434.3,367.1 438.2,365.3 442.0,363.6 445.8,362.2 449.6,361.2 453.5,360.4 457.3,359.7 461.1,359.3 465.0,359.0 468.8,358.9 472.6,358.9 476.4,359.0 480.3,359.3 484.1,359.8 487.9,360.5 491.8,362.1 495.6,363.8 499.4,365.8 503.2,367.7 507.1,369.6 510.9,371.3 514.7,372.8 518.6,373.8 522.4,374.7 526.2,375.5 530.0,375.5 533.9,374.8 537.7,373.9 541.5,372.7 545.3,371.3 549.2,369.8 553.0,368.5 556.8,367.3 560.7,366.5 564.5,366.3 568.3,366.5 572.1,367.3 576.0,368.2 579.8,369.3 583.6,370.8 587.5,372.4 591.3,373.8 595.1,375.0 598.9,375.9 602.8,375.7 606.6,374.9 610.4,373.4 614.3,371.5 618.1,369.3 621.9,366.9 625.7,364.5 629.6,362.1 633.4,359.5 637.2,356.6 641.0,353.7 644.9,351.2 648.7,348.3 652.5,345.0 656.4,342.3 660.2,340.1 664.0,338.9 667.8,337.9 671.7,337.1 675.5,336.5 679.3,336.3 683.2,336.4 687.0,336.7 690.8,337.3 694.6,337.9 698.5,338.3 702.3,338.5 706.1,338.4 710.0,338.1 713.8,337.6 717.6,336.9 721.4,336.1 725.3,335.2 729.1,334.4 732.9,333.7 736.7,333.1 740.6,332.7 744.4,332.1 748.2,331.6 752.1,331.4 755.9,331.6 759.7,332.7 763.5,334.4 767.4,336.5 771.2,338.5 775.0,340.0 778.9,341.3 782.7,342.5 786.5,343.6 790.3,344.6 794.2,345.3 798.0,345.6 801.8,345.4 805.7,344.5 809.5,343.5 813.3,342.6 817.1,341.6 821.0,340.7 824.8,339.9 828.6,339.3 832.4,339.0 836.3,338.9 840.1,338.9 843.9,338.7 847.8,338.4 851.6,338.0 855.4,337.5 859.2,337.0 863.1,336.5 866.9,336.3 870.7,336.3 874.6,336.4 878.4,336.6 882.2,336.9 886.0,337.6 889.9,338.1 893.7,338.5 897.5,339.0 901.4,339.3 905.2,339.5 909.0,339.5 912.8,339.3 916.7,339.2 920.5,339.0 924.3,339.3 928.1,339.6 932.0,340.1 935.8,340.7 939.6,341.2 943.5,341.8 947.3,342.4 951.1,343.2 954.9,344.0 958.8,344.6 962.6,345.2 966.4,345.2 970.3,345.1 974.1,344.9" fill="none" stroke="#b8382a" stroke-width="1.1" stroke-linejoin="round"/>
<rect x="4.4" y="359.1" width="2.4" height="1.9" fill="#7fe030"/>
<rect x="8.2" y="358.1" width="2.4" height="2.9" fill="#7fe030"/>
<rect x="12.1" y="357.6" width="2.4" height="3.4" fill="#7fe030"/>
<rect x="15.9" y="357.0" width="2.4" height="4.0" fill="#7fe030"/>
<rect x="19.7" y="356.8" width="2.4" height="4.2" fill="#7fe030"/>
<rect x="23.5" y="356.5" width="2.4" height="4.5" fill="#7fe030"/>
<rect x="27.4" y="356.1" width="2.4" height="4.9" fill="#7fe030"/>
<rect x="31.2" y="355.6" width="2.4" height="5.4" fill="#7fe030"/>
<rect x="35.0" y="355.1" width="2.4" height="5.9" fill="#7fe030"/>
<rect x="38.9" y="355.4" width="2.4" height="5.6" fill="#7fe030"/>
<rect x="42.7" y="356.0" width="2.4" height="5.0" fill="#7fe030"/>
<rect x="46.5" y="357.0" width="2.4" height="4.0" fill="#7fe030"/>
<rect x="50.3" y="357.7" width="2.4" height="3.3" fill="#7fe030"/>
<rect x="54.2" y="358.6" width="2.4" height="2.4" fill="#7fe030"/>
<rect x="58.0" y="359.3" width="2.4" height="1.7" fill="#7fe030"/>
<rect x="61.8" y="359.7" width="2.4" height="1.3" fill="#7fe030"/>
<rect x="65.6" y="360.1" width="2.4" height="0.9" fill="#7fe030"/>
<rect x="69.5" y="360.5" width="2.4" height="0.5" fill="#7fe030"/>
<rect x="73.3" y="360.7" width="2.4" height="0.3" fill="#7fe030"/>
<rect x="77.1" y="361.0" width="2.4" height="0.3" fill="#7fe030"/>
<rect x="81.0" y="361.0" width="2.4" height="0.4" fill="#7fe030"/>
<rect x="84.8" y="361.0" width="2.4" height="0.3" fill="#7fe030"/>
<rect x="88.6" y="361.0" width="2.4" height="0.3" fill="#7fe030"/>
<rect x="92.4" y="361.0" width="2.4" height="2.0" fill="#7fe030"/>
<rect x="96.3" y="361.0" width="2.4" height="3.4" fill="#7fe030"/>
<rect x="100.1" y="361.0" width="2.4" height="4.2" fill="#7fe030"/>
<rect x="103.9" y="361.0" width="2.4" height="2.9" fill="#7fe030"/>
<rect x="107.8" y="361.0" width="2.4" height="1.2" fill="#7fe030"/>
<rect x="111.6" y="361.0" width="2.4" height="0.3" fill="#7fe030"/>
<rect x="115.4" y="361.0" width="2.4" height="0.9" fill="#7fe030"/>
<rect x="119.2" y="361.0" width="2.4" height="1.4" fill="#7fe030"/>
<rect x="123.1" y="361.0" width="2.4" height="2.5" fill="#7fe030"/>
<rect x="126.9" y="361.0" width="2.4" height="0.9" fill="#7fe030"/>
<rect x="130.7" y="360.6" width="2.4" height="0.4" fill="#7fe030"/>
<rect x="134.6" y="360.2" width="2.4" height="0.8" fill="#7fe030"/>
<rect x="138.4" y="359.7" width="2.4" height="1.3" fill="#7fe030"/>
<rect x="142.2" y="359.3" width="2.4" height="1.7" fill="#7fe030"/>
<rect x="146.0" y="359.1" width="2.4" height="1.9" fill="#7fe030"/>
<rect x="149.9" y="358.8" width="2.4" height="2.2" fill="#7fe030"/>
<rect x="153.7" y="358.2" width="2.4" height="2.8" fill="#7fe030"/>
<rect x="157.5" y="357.4" width="2.4" height="3.6" fill="#7fe030"/>
<rect x="161.3" y="356.5" width="2.4" height="4.5" fill="#7fe030"/>
<rect x="165.2" y="356.2" width="2.4" height="4.8" fill="#7fe030"/>
<rect x="169.0" y="356.2" width="2.4" height="4.8" fill="#7fe030"/>
<rect x="172.8" y="357.5" width="2.4" height="3.5" fill="#7fe030"/>
<rect x="176.7" y="358.6" width="2.4" height="2.4" fill="#7fe030"/>
<rect x="180.5" y="359.1" width="2.4" height="1.9" fill="#7fe030"/>
<rect x="184.3" y="357.3" width="2.4" height="3.7" fill="#7fe030"/>
<rect x="188.1" y="356.6" width="2.4" height="4.4" fill="#7fe030"/>
<rect x="192.0" y="356.8" width="2.4" height="4.2" fill="#7fe030"/>
<rect x="195.8" y="356.2" width="2.4" height="4.8" fill="#7fe030"/>
<rect x="199.6" y="355.5" width="2.4" height="5.5" fill="#7fe030"/>
<rect x="203.5" y="354.6" width="2.4" height="6.4" fill="#7fe030"/>
<rect x="207.3" y="355.5" width="2.4" height="5.5" fill="#7fe030"/>
<rect x="211.1" y="356.7" width="2.4" height="4.3" fill="#7fe030"/>
<rect x="214.9" y="357.6" width="2.4" height="3.4" fill="#7fe030"/>
<rect x="218.8" y="357.7" width="2.4" height="3.3" fill="#7fe030"/>
<rect x="222.6" y="357.2" width="2.4" height="3.8" fill="#7fe030"/>
<rect x="226.4" y="356.8" width="2.4" height="4.2" fill="#7fe030"/>
<rect x="230.3" y="356.5" width="2.4" height="4.5" fill="#7fe030"/>
<rect x="234.1" y="356.4" width="2.4" height="4.6" fill="#7fe030"/>
<rect x="237.9" y="357.1" width="2.4" height="3.9" fill="#7fe030"/>
<rect x="241.7" y="358.5" width="2.4" height="2.5" fill="#7fe030"/>
<rect x="245.6" y="359.6" width="2.4" height="1.4" fill="#7fe030"/>
<rect x="249.4" y="361.0" width="2.4" height="0.3" fill="#7fe030"/>
<rect x="253.2" y="361.0" width="2.4" height="1.6" fill="#7fe030"/>
<rect x="257.0" y="361.0" width="2.4" height="3.1" fill="#7fe030"/>
<rect x="260.9" y="361.0" width="2.4" height="3.3" fill="#7fe030"/>
<rect x="264.7" y="361.0" width="2.4" height="3.6" fill="#7fe030"/>
<rect x="268.5" y="361.0" width="2.4" height="3.6" fill="#7fe030"/>
<rect x="272.4" y="361.0" width="2.4" height="2.9" fill="#7fe030"/>
<rect x="276.2" y="361.0" width="2.4" height="2.4" fill="#7fe030"/>
<rect x="280.0" y="361.0" width="2.4" height="2.2" fill="#7fe030"/>
<rect x="283.8" y="361.0" width="2.4" height="2.4" fill="#7fe030"/>
<rect x="287.7" y="361.0" width="2.4" height="2.6" fill="#7fe030"/>
<rect x="291.5" y="361.0" width="2.4" height="2.5" fill="#7fe030"/>
<rect x="295.3" y="361.0" width="2.4" height="2.3" fill="#7fe030"/>
<rect x="299.2" y="361.0" width="2.4" height="1.5" fill="#7fe030"/>
<rect x="303.0" y="360.7" width="2.4" height="0.3" fill="#7fe030"/>
<rect x="306.8" y="359.7" width="2.4" height="1.3" fill="#7fe030"/>
<rect x="310.6" y="358.7" width="2.4" height="2.3" fill="#7fe030"/>
<rect x="314.5" y="357.9" width="2.4" height="3.1" fill="#7fe030"/>
<rect x="318.3" y="357.0" width="2.4" height="4.0" fill="#7fe030"/>
<rect x="322.1" y="359.3" width="2.4" height="1.7" fill="#7fe030"/>
<rect x="326.0" y="360.7" width="2.4" height="0.3" fill="#7fe030"/>
<rect x="329.8" y="361.0" width="2.4" height="0.8" fill="#7fe030"/>
<rect x="333.6" y="361.0" width="2.4" height="1.6" fill="#7fe030"/>
<rect x="337.4" y="361.0" width="2.4" height="2.2" fill="#7fe030"/>
<rect x="341.3" y="361.0" width="2.4" height="2.8" fill="#7fe030"/>
<rect x="345.1" y="361.0" width="2.4" height="1.9" fill="#7fe030"/>
<rect x="348.9" y="361.0" width="2.4" height="1.1" fill="#7fe030"/>
<rect x="352.7" y="361.0" width="2.4" height="1.4" fill="#7fe030"/>
<rect x="356.6" y="361.0" width="2.4" height="3.4" fill="#7fe030"/>
<rect x="360.4" y="361.0" width="2.4" height="5.1" fill="#7fe030"/>
<rect x="364.2" y="361.0" width="2.4" height="6.2" fill="#7fe030"/>
<rect x="368.1" y="361.0" width="2.4" height="6.7" fill="#7fe030"/>
<rect x="371.9" y="361.0" width="2.4" height="6.8" fill="#7fe030"/>
<rect x="375.7" y="361.0" width="2.4" height="7.1" fill="#7fe030"/>
<rect x="379.5" y="361.0" width="2.4" height="7.6" fill="#7fe030"/>
<rect x="383.4" y="361.0" width="2.4" height="8.3" fill="#7fe030"/>
<rect x="387.2" y="361.0" width="2.4" height="7.6" fill="#7fe030"/>
<rect x="391.0" y="361.0" width="2.4" height="8.6" fill="#7fe030"/>
<rect x="394.9" y="361.0" width="2.4" height="9.3" fill="#7fe030"/>
<rect x="398.7" y="361.0" width="2.4" height="9.0" fill="#7fe030"/>
<rect x="402.5" y="361.0" width="2.4" height="8.3" fill="#7fe030"/>
<rect x="406.3" y="361.0" width="2.4" height="7.3" fill="#7fe030"/>
<rect x="410.2" y="361.0" width="2.4" height="5.4" fill="#7fe030"/>
<rect x="414.0" y="361.0" width="2.4" height="3.5" fill="#7fe030"/>
<rect x="417.8" y="361.0" width="2.4" height="2.1" fill="#7fe030"/>
<rect x="421.7" y="361.0" width="2.4" height="0.6" fill="#7fe030"/>
<rect x="425.5" y="359.8" width="2.4" height="1.2" fill="#7fe030"/>
<rect x="429.3" y="357.7" width="2.4" height="3.3" fill="#7fe030"/>
<rect x="433.1" y="356.0" width="2.4" height="5.0" fill="#7fe030"/>
<rect x="437.0" y="355.2" width="2.4" height="5.8" fill="#7fe030"/>
<rect x="440.8" y="355.0" width="2.4" height="6.0" fill="#7fe030"/>
<rect x="444.6" y="355.7" width="2.4" height="5.3" fill="#7fe030"/>
<rect x="448.4" y="357.1" width="2.4" height="3.9" fill="#7fe030"/>
<rect x="452.3" y="358.2" width="2.4" height="2.8" fill="#7fe030"/>
<rect x="456.1" y="358.8" width="2.4" height="2.2" fill="#7fe030"/>
<rect x="459.9" y="358.9" width="2.4" height="2.1" fill="#7fe030"/>
<rect x="463.8" y="359.6" width="2.4" height="1.4" fill="#7fe030"/>
<rect x="467.6" y="360.1" width="2.4" height="0.9" fill="#7fe030"/>
<rect x="471.4" y="360.1" width="2.4" height="0.9" fill="#7fe030"/>
<rect x="475.2" y="360.7" width="2.4" height="0.3" fill="#7fe030"/>
<rect x="479.1" y="361.0" width="2.4" height="0.8" fill="#7fe030"/>
<rect x="482.9" y="361.0" width="2.4" height="2.0" fill="#7fe030"/>
<rect x="486.7" y="361.0" width="2.4" height="4.1" fill="#7fe030"/>
<rect x="490.6" y="361.0" width="2.4" height="5.8" fill="#7fe030"/>
<rect x="494.4" y="361.0" width="2.4" height="7.1" fill="#7fe030"/>
<rect x="498.2" y="361.0" width="2.4" height="8.0" fill="#7fe030"/>
<rect x="502.0" y="361.0" width="2.4" height="8.5" fill="#7fe030"/>
<rect x="505.9" y="361.0" width="2.4" height="8.3" fill="#7fe030"/>
<rect x="509.7" y="361.0" width="2.4" height="7.2" fill="#7fe030"/>
<rect x="513.5" y="361.0" width="2.4" height="5.1" fill="#7fe030"/>
<rect x="517.4" y="361.0" width="2.4" height="4.3" fill="#7fe030"/>
<rect x="521.2" y="361.0" width="2.4" height="3.3" fill="#7fe030"/>
<rect x="525.0" y="361.0" width="2.4" height="2.1" fill="#7fe030"/>
<rect x="528.8" y="361.0" width="2.4" height="0.9" fill="#7fe030"/>
<rect x="532.7" y="359.9" width="2.4" height="1.1" fill="#7fe030"/>
<rect x="536.5" y="358.0" width="2.4" height="3.0" fill="#7fe030"/>
<rect x="540.3" y="356.3" width="2.4" height="4.7" fill="#7fe030"/>
<rect x="544.1" y="355.3" width="2.4" height="5.7" fill="#7fe030"/>
<rect x="548.0" y="355.7" width="2.4" height="5.3" fill="#7fe030"/>
<rect x="551.8" y="356.3" width="2.4" height="4.7" fill="#7fe030"/>
<rect x="555.6" y="356.2" width="2.4" height="4.8" fill="#7fe030"/>
<rect x="559.5" y="357.6" width="2.4" height="3.4" fill="#7fe030"/>
<rect x="563.3" y="359.0" width="2.4" height="2.0" fill="#7fe030"/>
<rect x="567.1" y="360.3" width="2.4" height="0.7" fill="#7fe030"/>
<rect x="570.9" y="361.0" width="2.4" height="0.9" fill="#7fe030"/>
<rect x="574.8" y="361.0" width="2.4" height="1.7" fill="#7fe030"/>
<rect x="578.6" y="361.0" width="2.4" height="2.8" fill="#7fe030"/>
<rect x="582.4" y="361.0" width="2.4" height="5.2" fill="#7fe030"/>
<rect x="586.3" y="361.0" width="2.4" height="6.2" fill="#7fe030"/>
<rect x="590.1" y="361.0" width="2.4" height="6.4" fill="#7fe030"/>
<rect x="593.9" y="361.0" width="2.4" height="5.6" fill="#7fe030"/>
<rect x="597.7" y="361.0" width="2.4" height="3.7" fill="#7fe030"/>
<rect x="601.6" y="361.0" width="2.4" height="1.0" fill="#7fe030"/>
<rect x="605.4" y="359.1" width="2.4" height="1.9" fill="#7fe030"/>
<rect x="609.2" y="356.3" width="2.4" height="4.7" fill="#7fe030"/>
<rect x="613.1" y="354.4" width="2.4" height="6.6" fill="#7fe030"/>
<rect x="616.9" y="353.1" width="2.4" height="7.9" fill="#7fe030"/>
<rect x="620.7" y="352.2" width="2.4" height="8.8" fill="#7fe030"/>
<rect x="624.5" y="351.8" width="2.4" height="9.2" fill="#7fe030"/>
<rect x="628.4" y="350.9" width="2.4" height="10.1" fill="#7fe030"/>
<rect x="632.2" y="349.9" width="2.4" height="11.1" fill="#7fe030"/>
<rect x="636.0" y="349.0" width="2.4" height="12.0" fill="#7fe030"/>
<rect x="639.8" y="349.0" width="2.4" height="12.0" fill="#7fe030"/>
<rect x="643.7" y="349.0" width="2.4" height="12.0" fill="#7fe030"/>
<rect x="647.5" y="349.9" width="2.4" height="11.1" fill="#7fe030"/>
<rect x="651.3" y="351.5" width="2.4" height="9.5" fill="#7fe030"/>
<rect x="655.2" y="352.8" width="2.4" height="8.2" fill="#7fe030"/>
<rect x="659.0" y="354.3" width="2.4" height="6.7" fill="#7fe030"/>
<rect x="662.8" y="355.5" width="2.4" height="5.5" fill="#7fe030"/>
<rect x="666.6" y="356.6" width="2.4" height="4.4" fill="#7fe030"/>
<rect x="670.5" y="357.5" width="2.4" height="3.5" fill="#7fe030"/>
<rect x="674.3" y="358.7" width="2.4" height="2.3" fill="#7fe030"/>
<rect x="678.1" y="359.4" width="2.4" height="1.6" fill="#7fe030"/>
<rect x="682.0" y="360.0" width="2.4" height="1.0" fill="#7fe030"/>
<rect x="685.8" y="360.7" width="2.4" height="0.3" fill="#7fe030"/>
<rect x="689.6" y="361.0" width="2.4" height="0.9" fill="#7fe030"/>
<rect x="693.4" y="361.0" width="2.4" height="2.1" fill="#7fe030"/>
<rect x="697.3" y="361.0" width="2.4" height="1.7" fill="#7fe030"/>
<rect x="701.1" y="361.0" width="2.4" height="1.0" fill="#7fe030"/>
<rect x="704.9" y="361.0" width="2.4" height="0.5" fill="#7fe030"/>
<rect x="708.8" y="360.7" width="2.4" height="0.3" fill="#7fe030"/>
<rect x="712.6" y="359.9" width="2.4" height="1.1" fill="#7fe030"/>
<rect x="716.4" y="358.9" width="2.4" height="2.1" fill="#7fe030"/>
<rect x="720.2" y="358.3" width="2.4" height="2.7" fill="#7fe030"/>
<rect x="724.1" y="357.5" width="2.4" height="3.5" fill="#7fe030"/>
<rect x="727.9" y="357.7" width="2.4" height="3.3" fill="#7fe030"/>
<rect x="731.7" y="358.6" width="2.4" height="2.4" fill="#7fe030"/>
<rect x="735.5" y="358.7" width="2.4" height="2.3" fill="#7fe030"/>
<rect x="739.4" y="358.6" width="2.4" height="2.4" fill="#7fe030"/>
<rect x="743.2" y="358.8" width="2.4" height="2.2" fill="#7fe030"/>
<rect x="747.0" y="359.0" width="2.4" height="2.0" fill="#7fe030"/>
<rect x="750.9" y="360.2" width="2.4" height="0.8" fill="#7fe030"/>
<rect x="754.7" y="361.0" width="2.4" height="1.1" fill="#7fe030"/>
<rect x="758.5" y="361.0" width="2.4" height="3.1" fill="#7fe030"/>
<rect x="762.3" y="361.0" width="2.4" height="5.2" fill="#7fe030"/>
<rect x="766.2" y="361.0" width="2.4" height="7.3" fill="#7fe030"/>
<rect x="770.0" y="361.0" width="2.4" height="8.5" fill="#7fe030"/>
<rect x="773.8" y="361.0" width="2.4" height="7.1" fill="#7fe030"/>
<rect x="777.7" y="361.0" width="2.4" height="5.6" fill="#7fe030"/>
<rect x="781.5" y="361.0" width="2.4" height="4.2" fill="#7fe030"/>
<rect x="785.3" y="361.0" width="2.4" height="2.9" fill="#7fe030"/>
<rect x="789.1" y="361.0" width="2.4" height="1.9" fill="#7fe030"/>
<rect x="793.0" y="361.0" width="2.4" height="1.9" fill="#7fe030"/>
<rect x="796.8" y="361.0" width="2.4" height="1.9" fill="#7fe030"/>
<rect x="800.6" y="361.0" width="2.4" height="0.7" fill="#7fe030"/>
<rect x="804.5" y="360.3" width="2.4" height="0.7" fill="#7fe030"/>
<rect x="808.3" y="358.9" width="2.4" height="2.1" fill="#7fe030"/>
<rect x="812.1" y="358.0" width="2.4" height="3.0" fill="#7fe030"/>
<rect x="815.9" y="357.5" width="2.4" height="3.5" fill="#7fe030"/>
<rect x="819.8" y="357.4" width="2.4" height="3.6" fill="#7fe030"/>
<rect x="823.6" y="357.5" width="2.4" height="3.5" fill="#7fe030"/>
<rect x="827.4" y="357.2" width="2.4" height="3.8" fill="#7fe030"/>
<rect x="831.2" y="358.5" width="2.4" height="2.5" fill="#7fe030"/>
<rect x="835.1" y="360.7" width="2.4" height="0.3" fill="#7fe030"/>
<rect x="838.9" y="361.0" width="2.4" height="0.7" fill="#7fe030"/>
<rect x="842.7" y="361.0" width="2.4" height="0.6" fill="#7fe030"/>
<rect x="846.6" y="361.0" width="2.4" height="0.4" fill="#7fe030"/>
<rect x="850.4" y="361.0" width="2.4" height="0.3" fill="#7fe030"/>
<rect x="854.2" y="360.3" width="2.4" height="0.7" fill="#7fe030"/>
<rect x="858.0" y="358.8" width="2.4" height="2.2" fill="#7fe030"/>
<rect x="861.9" y="358.2" width="2.4" height="2.8" fill="#7fe030"/>
<rect x="865.7" y="358.7" width="2.4" height="2.3" fill="#7fe030"/>
<rect x="869.5" y="360.2" width="2.4" height="0.8" fill="#7fe030"/>
<rect x="873.4" y="360.7" width="2.4" height="0.3" fill="#7fe030"/>
<rect x="877.2" y="360.7" width="2.4" height="0.3" fill="#7fe030"/>
<rect x="881.0" y="361.0" width="2.4" height="0.5" fill="#7fe030"/>
<rect x="884.8" y="361.0" width="2.4" height="2.2" fill="#7fe030"/>
<rect x="888.7" y="361.0" width="2.4" height="3.6" fill="#7fe030"/>
<rect x="892.5" y="361.0" width="2.4" height="2.0" fill="#7fe030"/>
<rect x="896.3" y="361.0" width="2.4" height="1.0" fill="#7fe030"/>
<rect x="900.2" y="361.0" width="2.4" height="0.6" fill="#7fe030"/>
<rect x="904.0" y="361.0" width="2.4" height="0.5" fill="#7fe030"/>
<rect x="907.8" y="361.0" width="2.4" height="0.7" fill="#7fe030"/>
<rect x="911.6" y="360.7" width="2.4" height="0.3" fill="#7fe030"/>
<rect x="915.5" y="360.1" width="2.4" height="0.9" fill="#7fe030"/>
<rect x="919.3" y="360.5" width="2.4" height="0.5" fill="#7fe030"/>
<rect x="923.1" y="361.0" width="2.4" height="0.7" fill="#7fe030"/>
<rect x="926.9" y="361.0" width="2.4" height="1.1" fill="#7fe030"/>
<rect x="930.8" y="361.0" width="2.4" height="1.4" fill="#7fe030"/>
<rect x="934.6" y="361.0" width="2.4" height="1.7" fill="#7fe030"/>
<rect x="938.4" y="361.0" width="2.4" height="2.0" fill="#7fe030"/>
<rect x="942.3" y="361.0" width="2.4" height="1.9" fill="#7fe030"/>
<rect x="946.1" y="361.0" width="2.4" height="2.0" fill="#7fe030"/>
<rect x="949.9" y="361.0" width="2.4" height="2.2" fill="#7fe030"/>
<rect x="953.7" y="361.0" width="2.4" height="2.7" fill="#7fe030"/>
<rect x="957.6" y="361.0" width="2.4" height="2.8" fill="#7fe030"/>
<rect x="961.4" y="361.0" width="2.4" height="2.2" fill="#7fe030"/>
<rect x="965.2" y="361.0" width="2.4" height="1.0" fill="#7fe030"/>
<rect x="969.1" y="361.0" width="2.4" height="0.3" fill="#7fe030"/>
<rect x="972.9" y="360.7" width="2.4" height="0.3" fill="#7fe030"/>
<rect x="0" y="236.5" width="991.5" height="2.2" fill="#5a5a5a"/>
<rect x="0" y="317.5" width="991.5" height="2.2" fill="#5a5a5a"/>
<rect x="991.5" y="40" width="32.5" height="374" fill="#000"/>
<line x1="991.5" y1="40" x2="991.5" y2="392" stroke="#8c8c8c" stroke-width="1.5"/>
<polygon points="991.5,39.45 996.5,41.25 991.5,43.05" fill="#e8e8e8"/>
<text xml:space="preserve" x="997" y="46.6" font-size="8.2" fill="#d0d0d0" text-anchor="start" textLength="18" lengthAdjust="spacingAndGlyphs">17000</text>
<polygon points="991.5,70.2 996.5,72.0 991.5,73.8" fill="#e8e8e8"/>
<text xml:space="preserve" x="997" y="74.9" font-size="8.2" fill="#d0d0d0" text-anchor="start" textLength="18.1" lengthAdjust="spacingAndGlyphs">16000</text>
<polygon points="991.5,100.95 996.5,102.75 991.5,104.55" fill="#e8e8e8"/>
<text xml:space="preserve" x="997" y="105.65" font-size="8.2" fill="#d0d0d0" text-anchor="start" textLength="18.1" lengthAdjust="spacingAndGlyphs">15000</text>
<polygon points="991.5,131.7 996.5,133.5 991.5,135.3" fill="#e8e8e8"/>
<text xml:space="preserve" x="997" y="136.4" font-size="8.2" fill="#d0d0d0" text-anchor="start" textLength="18.1" lengthAdjust="spacingAndGlyphs">14000</text>
<polygon points="991.5,162.45 996.5,164.25 991.5,166.05" fill="#e8e8e8"/>
<text xml:space="preserve" x="997" y="167.15" font-size="8.2" fill="#d0d0d0" text-anchor="start" textLength="18.1" lengthAdjust="spacingAndGlyphs">13000</text>
<polygon points="991.5,193.2 996.5,195.0 991.5,196.8" fill="#e8e8e8"/>
<text xml:space="preserve" x="997" y="197.9" font-size="8.2" fill="#d0d0d0" text-anchor="start" textLength="18.1" lengthAdjust="spacingAndGlyphs">12000</text>
<polygon points="991.5,223.95 996.5,225.75 991.5,227.55" fill="#e8e8e8"/>
<text xml:space="preserve" x="997" y="228.65" font-size="8.2" fill="#d0d0d0" text-anchor="start" textLength="18.1" lengthAdjust="spacingAndGlyphs">11000</text>
<line x1="991.5" y1="56.625" x2="994.0" y2="56.625" stroke="#aaa" stroke-width="0.8"/>
<line x1="991.5" y1="87.375" x2="994.0" y2="87.375" stroke="#aaa" stroke-width="0.8"/>
<line x1="991.5" y1="118.125" x2="994.0" y2="118.125" stroke="#aaa" stroke-width="0.8"/>
<line x1="991.5" y1="148.875" x2="994.0" y2="148.875" stroke="#aaa" stroke-width="0.8"/>
<line x1="991.5" y1="179.625" x2="994.0" y2="179.625" stroke="#aaa" stroke-width="0.8"/>
<line x1="991.5" y1="210.375" x2="994.0" y2="210.375" stroke="#aaa" stroke-width="0.8"/>
<polygon points="991.5,244.2 996.5,246.0 991.5,247.8" fill="#e8e8e8"/>
<text xml:space="preserve" x="997" y="248.9" font-size="8.2" fill="#d0d0d0" text-anchor="start" textLength="10.9" lengthAdjust="spacingAndGlyphs">100</text>
<polygon points="991.5,276.2 996.5,278.0 991.5,279.8" fill="#e8e8e8"/>
<text xml:space="preserve" x="997" y="280.9" font-size="8.2" fill="#d0d0d0" text-anchor="start" textLength="7.2" lengthAdjust="spacingAndGlyphs">50</text>
<polygon points="991.5,308.2 996.5,310.0 991.5,311.8" fill="#e8e8e8"/>
<text xml:space="preserve" x="997" y="312.9" font-size="8.2" fill="#d0d0d0" text-anchor="start" textLength="3.6" lengthAdjust="spacingAndGlyphs">0</text>
<line x1="991.5" y1="262.0" x2="994.0" y2="262.0" stroke="#aaa" stroke-width="0.8"/>
<line x1="991.5" y1="294.0" x2="994.0" y2="294.0" stroke="#aaa" stroke-width="0.8"/>
<polygon points="991.5,338.2 996.5,340.0 991.5,341.8" fill="#e8e8e8"/>
<text xml:space="preserve" x="997" y="342.9" font-size="8.2" fill="#d0d0d0" text-anchor="start" textLength="10.9" lengthAdjust="spacingAndGlyphs">200</text>
<polygon points="991.5,359.2 996.5,361.0 991.5,362.8" fill="#e8e8e8"/>
<text xml:space="preserve" x="997" y="363.9" font-size="8.2" fill="#d0d0d0" text-anchor="start" textLength="3.6" lengthAdjust="spacingAndGlyphs">0</text>
<polygon points="991.5,380.2 996.5,382.0 991.5,383.8" fill="#e8e8e8"/>
<text xml:space="preserve" x="997" y="384.9" font-size="8.2" fill="#d0d0d0" text-anchor="start" textLength="13.5" lengthAdjust="spacingAndGlyphs">-200</text>
<line x1="991.5" y1="350.5" x2="994.0" y2="350.5" stroke="#aaa" stroke-width="0.8"/>
<line x1="991.5" y1="371.5" x2="994.0" y2="371.5" stroke="#aaa" stroke-width="0.8"/>
<polygon points="992.3,58.81378500000001 995.7,54.21378500000001 1024,54.21378500000001 1024,63.41378500000001 995.7,63.41378500000001" fill="#f4f4f4"/>
<text xml:space="preserve" x="996.5" y="61.81378500000001" font-size="8.4" fill="#111" text-anchor="start" textLength="28.5" lengthAdjust="spacingAndGlyphs">16428.82</text>
<polygon points="992.3,78.96733499999999 995.7,74.367335 1024,74.367335 1024,83.56733499999999 995.7,83.56733499999999" fill="#e0409a"/>
<text xml:space="preserve" x="996.5" y="81.96733499999999" font-size="8.4" fill="#fff" text-anchor="start" textLength="28.5" lengthAdjust="spacingAndGlyphs">15773.42</text>
<polygon points="992.3,101.71618499999997 995.7,97.11618499999997 1024,97.11618499999997 1024,106.31618499999996 995.7,106.31618499999996" fill="#5ab43c"/>
<text xml:space="preserve" x="996.5" y="104.71618499999997" font-size="8.4" fill="#fff" text-anchor="start" textLength="28.5" lengthAdjust="spacingAndGlyphs">15033.62</text>
<polygon points="992.3,123.29284499999999 995.7,118.69284499999999 1024,118.69284499999999 1024,127.89284499999998 995.7,127.89284499999998" fill="#f0e63c"/>
<text xml:space="preserve" x="996.5" y="126.29284499999999" font-size="8.4" fill="#111" text-anchor="start" textLength="28.5" lengthAdjust="spacingAndGlyphs">14331.94</text>
<polygon points="992.3,270.180032 995.7,265.780032 1024,265.780032 1024,274.58003199999996 995.7,274.58003199999996" fill="#f4f4f4"/>
<text xml:space="preserve" x="996" y="273.180032" font-size="8.4" fill="#111" text-anchor="start" textLength="24" lengthAdjust="spacingAndGlyphs">62.2187</text>
<polygon points="992.3,344.283202 995.7,339.88320200000004 1024,339.88320200000004 1024,348.683202 995.7,348.683202" fill="#f4f4f4"/>
<text xml:space="preserve" x="996" y="347.283202" font-size="8.4" fill="#111" text-anchor="start" textLength="27.5" lengthAdjust="spacingAndGlyphs">159.2076</text>
<polygon points="992.3,360.5866635 995.7,356.1866635 1024,356.1866635 1024,364.98666349999996 995.7,364.98666349999996" fill="#7fe030"/>
<text xml:space="preserve" x="996" y="363.5866635" font-size="8.4" fill="#2f6a10" text-anchor="start" textLength="21" lengthAdjust="spacingAndGlyphs">5.8413</text>
<rect x="0" y="388" width="991.5" height="4.6" fill="#2a2a2a"/>
<line x1="0" y1="389" x2="991.5" y2="389" stroke="#6a6a6a" stroke-width="1.2" stroke-dasharray="1.5,0.8"/>
<line x1="0" y1="392" x2="991.5" y2="392" stroke="#7c7c7c" stroke-width="1.1"/>
<polygon points="34.8,392.5 37.2,392.5 36,395" fill="#c8c8c8"/>
<polygon points="107.8,392.5 110.2,392.5 109,395" fill="#c8c8c8"/>
<polygon points="192.3,392.5 194.7,392.5 193.5,395" fill="#c8c8c8"/>
<polygon points="272.3,392.5 274.7,392.5 273.5,395" fill="#c8c8c8"/>
<polygon points="348.8,392.5 351.2,392.5 350,395" fill="#c8c8c8"/>
<polygon points="435.8,392.5 438.2,392.5 437,395" fill="#c8c8c8"/>
<polygon points="513.3,392.5 515.7,392.5 514.5,395" fill="#c8c8c8"/>
<polygon points="597.8,392.5 600.2,392.5 599,395" fill="#c8c8c8"/>
<polygon points="676.8,392.5 679.2,392.5 678,395" fill="#c8c8c8"/>
<polygon points="755.3,392.5 757.7,392.5 756.5,395" fill="#c8c8c8"/>
<polygon points="834.3,392.5 836.7,392.5 835.5,395" fill="#c8c8c8"/>
<polygon points="910.8,392.5 913.2,392.5 912,395" fill="#c8c8c8"/>
<text xml:space="preserve" x="72.5" y="399.9" font-size="7.8" fill="#d0d0d0" text-anchor="middle" textLength="10.8" lengthAdjust="spacingAndGlyphs">Apr</text>
<text xml:space="preserve" x="151.25" y="399.9" font-size="7.8" fill="#d0d0d0" text-anchor="middle" textLength="11.8" lengthAdjust="spacingAndGlyphs">May</text>
<text xml:space="preserve" x="233.5" y="399.9" font-size="7.8" fill="#d0d0d0" text-anchor="middle" textLength="10.5" lengthAdjust="spacingAndGlyphs">Jun</text>
<text xml:space="preserve" x="311.75" y="399.9" font-size="7.8" fill="#d0d0d0" text-anchor="middle" textLength="8.6" lengthAdjust="spacingAndGlyphs">Jul</text>
<text xml:space="preserve" x="393.5" y="399.9" font-size="7.8" fill="#d0d0d0" text-anchor="middle" textLength="10.8" lengthAdjust="spacingAndGlyphs">Aug</text>
<text xml:space="preserve" x="475.75" y="399.9" font-size="7.8" fill="#d0d0d0" text-anchor="middle" textLength="10.8" lengthAdjust="spacingAndGlyphs">Sep</text>
<text xml:space="preserve" x="556.75" y="399.9" font-size="7.8" fill="#d0d0d0" text-anchor="middle" textLength="10.8" lengthAdjust="spacingAndGlyphs">Oct</text>
<text xml:space="preserve" x="638.5" y="399.9" font-size="7.8" fill="#d0d0d0" text-anchor="middle" textLength="10.8" lengthAdjust="spacingAndGlyphs">Nov</text>
<text xml:space="preserve" x="717.25" y="399.9" font-size="7.8" fill="#d0d0d0" text-anchor="middle" textLength="10.8" lengthAdjust="spacingAndGlyphs">Dec</text>
<text xml:space="preserve" x="796.0" y="399.9" font-size="7.8" fill="#d0d0d0" text-anchor="middle" textLength="10.8" lengthAdjust="spacingAndGlyphs">Jan</text>
<text xml:space="preserve" x="873.75" y="399.9" font-size="7.8" fill="#d0d0d0" text-anchor="middle" textLength="10.8" lengthAdjust="spacingAndGlyphs">Feb</text>
<text xml:space="preserve" x="952" y="399.9" font-size="7.8" fill="#d0d0d0" text-anchor="middle" textLength="10.8" lengthAdjust="spacingAndGlyphs">Mar</text>
<text xml:space="preserve" x="378" y="408.9" font-size="8" fill="#d0d0d0" text-anchor="middle" textLength="14.3" lengthAdjust="spacingAndGlyphs">2023</text>
<text xml:space="preserve" x="873" y="408.9" font-size="8" fill="#d0d0d0" text-anchor="middle" textLength="14.3" lengthAdjust="spacingAndGlyphs">2024</text>
<line x1="756.5" y1="399" x2="756.5" y2="409" stroke="#444" stroke-width="1"/>
<rect x="992.3" y="388.3" width="32" height="3.8" fill="#36425e"/>
<rect x="3" y="57" width="154" height="36.5" fill="#171717" fill-opacity="0.9"/>
<rect x="11.5" y="59.5" width="6.4" height="6.4" fill="#ffffff"/>
<text xml:space="preserve" x="20" y="65.60000000000001" font-size="8" fill="#e4e4e4" text-anchor="start" textLength="102" lengthAdjust="spacingAndGlyphs">CCMP Index (USD) - Last Price</text>
<text xml:space="preserve" x="153" y="65.60000000000001" font-size="8" fill="#e4e4e4" text-anchor="end" textLength="28.5" lengthAdjust="spacingAndGlyphs">16428.82</text>
<rect x="11.5" y="67.95" width="6.4" height="6.4" fill="#e0409a"/>
<text xml:space="preserve" x="20" y="74.05000000000001" font-size="8" fill="#e4e4e4" text-anchor="start" textLength="71" lengthAdjust="spacingAndGlyphs">SMAVG (50)  on Close</text>
<text xml:space="preserve" x="153" y="74.05000000000001" font-size="8" fill="#e4e4e4" text-anchor="end" textLength="28.5" lengthAdjust="spacingAndGlyphs">15773.42</text>
<rect x="11.5" y="76.39999999999999" width="6.4" height="6.4" fill="#5ab43c"/>
<text xml:space="preserve" x="20" y="82.5" font-size="8" fill="#e4e4e4" text-anchor="start" textLength="75" lengthAdjust="spacingAndGlyphs">SMAVG (100)  on Close</text>
<text xml:space="preserve" x="153" y="82.5" font-size="8" fill="#e4e4e4" text-anchor="end" textLength="28.5" lengthAdjust="spacingAndGlyphs">15033.62</text>
<rect x="11.5" y="84.85" width="6.4" height="6.4" fill="#f0e63c"/>
<text xml:space="preserve" x="20" y="90.95" font-size="8" fill="#e4e4e4" text-anchor="start" textLength="75" lengthAdjust="spacingAndGlyphs">SMAVG (200)  on Close</text>
<text xml:space="preserve" x="153" y="90.95" font-size="8" fill="#e4e4e4" text-anchor="end" textLength="28.5" lengthAdjust="spacingAndGlyphs">14331.94</text>
<line x1="7.5" y1="60" x2="7.5" y2="90" stroke="#555" stroke-width="0.8"/>
<rect x="11" y="40.5" width="155" height="11.5" fill="#1d1d1d" fill-opacity="0.95"/>
<text xml:space="preserve" x="27" y="49.3" font-size="8" fill="#c4c4c4" text-anchor="start" textLength="17.5" lengthAdjust="spacingAndGlyphs">Track</text>
<text xml:space="preserve" x="64" y="49.3" font-size="8" fill="#c4c4c4" text-anchor="start" textLength="27.5" lengthAdjust="spacingAndGlyphs">Annotate</text>
<text xml:space="preserve" x="111" y="49.3" font-size="8" fill="#c4c4c4" text-anchor="start" textLength="16.5" lengthAdjust="spacingAndGlyphs">News</text>
<text xml:space="preserve" x="146" y="49.3" font-size="8" fill="#c4c4c4" text-anchor="start" textLength="18" lengthAdjust="spacingAndGlyphs">Zoom</text>
<g stroke="#777" fill="none" stroke-width="0.8"><circle cx="16.8" cy="46" r="2.2"/><path d="M13.5 46h6.6M16.8 42.7v6.6"/></g>
<path d="M53 49 L58.5 43.5" stroke="#666" stroke-width="1.4"/>
<rect x="99" y="43" width="3" height="2.5" fill="#555"/>
<rect x="103" y="43" width="3" height="2.5" fill="#555"/>
<rect x="99" y="46.5" width="3" height="2.5" fill="#444"/>
<rect x="103" y="46.5" width="3" height="2.5" fill="#444"/>
<g stroke="#666" fill="none" stroke-width="1"><circle cx="137.5" cy="45" r="2"/><path d="M139 46.7l2.3 2.5"/></g>
<rect x="3" y="242" width="132" height="15" fill="#181818" fill-opacity="0.9"/>
<rect x="7" y="246.3" width="6.4" height="6.4" fill="#fff"/>
<text xml:space="preserve" x="15.5" y="252.5" font-size="8" fill="#e4e4e4" text-anchor="start" textLength="115.5" lengthAdjust="spacingAndGlyphs">RSI (14)  on Close (CCMP) 62.2187</text>
<rect x="3" y="321" width="89" height="39.5" fill="#242420" fill-opacity="0.72"/>
<text xml:space="preserve" x="47.5" y="333" font-size="8" fill="#d8d8d8" text-anchor="middle" textLength="17" lengthAdjust="spacingAndGlyphs">CCMP</text>
<rect x="7" y="335.8" width="6.4" height="6.4" fill="#fff"/>
<text xml:space="preserve" x="15.5" y="341.9" font-size="8" fill="#e4e4e4" text-anchor="start" textLength="41" lengthAdjust="spacingAndGlyphs">MACD(12,26)</text>
<text xml:space="preserve" x="88" y="341.9" font-size="8" fill="#e4e4e4" text-anchor="end" textLength="28" lengthAdjust="spacingAndGlyphs">159.2076</text>
<rect x="7" y="344.3" width="6.4" height="6.4" fill="#e03a28"/>
<text xml:space="preserve" x="15.5" y="350.4" font-size="8" fill="#e4e4e4" text-anchor="start" textLength="20" lengthAdjust="spacingAndGlyphs">Sig(9)</text>
<text xml:space="preserve" x="88" y="350.4" font-size="8" fill="#e4e4e4" text-anchor="end" textLength="28" lengthAdjust="spacingAndGlyphs">153.3663</text>
<rect x="7" y="352.8" width="6.4" height="6.4" fill="#7fe030"/>
<text xml:space="preserve" x="15.5" y="358.9" font-size="8" fill="#e4e4e4" text-anchor="start" textLength="12" lengthAdjust="spacingAndGlyphs">Diff</text>
<text xml:space="preserve" x="88" y="358.9" font-size="8" fill="#e4e4e4" text-anchor="end" textLength="21" lengthAdjust="spacingAndGlyphs">5.8413</text>
<rect x="1" y="2" width="58" height="11" fill="#f2a33a"/>
<text xml:space="preserve" x="3.3" y="12.0" font-size="12.3" fill="#3b2a10" text-anchor="start" textLength="53.5" lengthAdjust="spacingAndGlyphs">03/20/2023</text>
<rect x="59.5" y="2" width="8.5" height="11" fill="#3a3a3a"/>
<rect x="77" y="2" width="57.5" height="11" fill="#f2a33a"/>
<text xml:space="preserve" x="79" y="12.0" font-size="12.3" fill="#3b2a10" text-anchor="start" textLength="54" lengthAdjust="spacingAndGlyphs">03/25/2024</text>
<rect x="135" y="2" width="8.5" height="11" fill="#3a3a3a"/>
<g fill="none" stroke="#9a9a9a" stroke-width="0.9"><rect x="61.2" y="5.2" width="5.2" height="5.2"/><path d="M61.2 7h5.2M62.5 4v1.6M65.10000000000001 4v1.6"/></g>
<g fill="none" stroke="#9a9a9a" stroke-width="0.9"><rect x="136.6" y="5.2" width="5.2" height="5.2"/><path d="M136.6 7h5.2M137.9 4v1.6M140.5 4v1.6"/></g>
<text xml:space="preserve" x="73" y="11.2" font-size="11" fill="#b07828" text-anchor="middle">-</text>
<rect x="145.5" y="2" width="12" height="11" fill="#3a3a3a"/>
<rect x="159.5" y="2" width="11" height="11" fill="#3a3a3a"/>
<path d="M153 4.6l-3 3 3 3" stroke="#b0b0b0" stroke-width="1.4" fill="none"/>
<path d="M163.7 4.6l3 3-3 3" stroke="#b0b0b0" stroke-width="1.4" fill="none"/>
<rect x="175" y="2" width="53" height="11" fill="#f2a33a"/>
<text xml:space="preserve" x="176.5" y="12.0" font-size="12" fill="#3b2a10" text-anchor="start" textLength="16.5" lengthAdjust="spacingAndGlyphs">USD</text>
<rect x="228" y="2" width="10" height="11" fill="#3a3a3a"/>
<polygon points="231.5,7 235.5,7 233.5,9.6" fill="#e8e8e8"/>
<rect x="985.5" y="2.5" width="18" height="11" fill="#383838"/>
<rect x="1004.5" y="2.5" width="19.5" height="11" fill="#383838"/>
<path d="M991.5 6.2h4.2a2.4 2.4 0 0 1 0 4.8h-2.6" stroke="#f0f0f0" stroke-width="1.5" fill="none"/><polygon points="989.3,6.2 992.6,3.8 992.6,8.6" fill="#f0f0f0"/>
<path d="M1017 6.5h-3.6a2.3 2.3 0 0 0-2.2 3" stroke="#777" stroke-width="1.4" fill="none"/><polygon points="1019.3,6.5 1016.3,4.3 1016.3,8.7" fill="#777"/>
<text xml:space="preserve" x="2" y="24.1" font-size="12" fill="#f2a33a" text-anchor="start" textLength="25" lengthAdjust="spacingAndGlyphs">Study</text>
<rect x="34" y="14.7" width="58" height="11" fill="#f2a33a"/>
<text xml:space="preserve" x="35.2" y="23.9" font-size="11.5" fill="#3b2a10" text-anchor="start" textLength="37" lengthAdjust="spacingAndGlyphs">Fibo H/L</text>
<rect x="92" y="14.7" width="8.5" height="11" fill="#303030"/>
<polygon points="94.8,20 98.2,20 96.5,22.3" fill="#e0e0e0"/>
<rect x="115" y="16.6" width="7.6" height="7.6" fill="#3c86ea"/>
<path d="M116.6 20.4l1.7 1.8 2.9-3.4" stroke="#fff" stroke-width="1.3" fill="none"/>
<rect x="193" y="16.6" width="7.6" height="7.6" fill="#3c86ea"/>
<path d="M194.6 20.4l1.7 1.8 2.9-3.4" stroke="#fff" stroke-width="1.3" fill="none"/>
<text xml:space="preserve" x="126" y="24.1" font-size="12" fill="#f2a33a" text-anchor="start" textLength="51" lengthAdjust="spacingAndGlyphs">Show Fibo..</text>
<text xml:space="preserve" x="204" y="24.1" font-size="12" fill="#f2a33a" text-anchor="start" textLength="53.5" lengthAdjust="spacingAndGlyphs">Calc on Pan</text>
<text xml:space="preserve" x="265.5" y="24.1" font-size="12" fill="#f2a33a" text-anchor="start" textLength="41.5" lengthAdjust="spacingAndGlyphs">Font Size</text>
<rect x="310" y="14.7" width="52" height="11" fill="#f2a33a"/>
<text xml:space="preserve" x="311.5" y="23.9" font-size="11.5" fill="#3b2a10" text-anchor="start" textLength="33.5" lengthAdjust="spacingAndGlyphs">Medium</text>
<rect x="362" y="14.7" width="9" height="11" fill="#303030"/>
<polygon points="364.8,20 368.2,20 366.5,22.3" fill="#e0e0e0"/>
<g transform="translate(380,16)"><path d="M1.2 7.4l5.4-5.6 1.9 1.8-5.5 5.5-2.6 .9z" fill="#e8e8e8"/></g>
<rect x="0" y="26.6" width="357" height="12.2" fill="#272727"/>
<rect x="357" y="26.6" width="444" height="12.2" fill="#1f1c1b"/>
<rect x="22" y="26.6" width="1" height="12.2" fill="#1e1e1e"/>
<rect x="45" y="26.6" width="1" height="12.2" fill="#1e1e1e"/>
<rect x="68" y="26.6" width="1" height="12.2" fill="#1e1e1e"/>
<rect x="91" y="26.6" width="1" height="12.2" fill="#1e1e1e"/>
<rect x="117" y="26.6" width="1" height="12.2" fill="#1e1e1e"/>
<rect x="140" y="26.6" width="1" height="12.2" fill="#1e1e1e"/>
<rect x="161" y="26.6" width="1" height="12.2" fill="#1e1e1e"/>
<rect x="187" y="26.6" width="1" height="12.2" fill="#1e1e1e"/>
<rect x="229" y="26.6" width="1" height="12.2" fill="#1e1e1e"/>
<rect x="118" y="26.6" width="21.5" height="12.2" fill="#2f5fd6"/>
<rect x="248" y="26.6" width="16" height="12.2" fill="#2f5fd6"/>
<text xml:space="preserve" x="8" y="36.3" font-size="9.4" fill="#e6e6e6" text-anchor="start" textLength="9" lengthAdjust="spacingAndGlyphs">1D</text>
<text xml:space="preserve" x="29" y="36.3" font-size="9.4" fill="#e6e6e6" text-anchor="start" textLength="10" lengthAdjust="spacingAndGlyphs">3D</text>
<text xml:space="preserve" x="52" y="36.3" font-size="9.4" fill="#e6e6e6" text-anchor="start" textLength="10" lengthAdjust="spacingAndGlyphs">1M</text>
<text xml:space="preserve" x="74" y="36.3" font-size="9.4" fill="#e6e6e6" text-anchor="start" textLength="11" lengthAdjust="spacingAndGlyphs">6M</text>
<text xml:space="preserve" x="97" y="36.3" font-size="9.4" fill="#e6e6e6" text-anchor="start" textLength="14.5" lengthAdjust="spacingAndGlyphs">YTD</text>
<text xml:space="preserve" x="124" y="36.3" font-size="9.4" fill="#e6e6e6" text-anchor="start" textLength="9.5" lengthAdjust="spacingAndGlyphs">1Y</text>
<text xml:space="preserve" x="146" y="36.3" font-size="9.4" fill="#e6e6e6" text-anchor="start" textLength="9" lengthAdjust="spacingAndGlyphs">5Y</text>
<text xml:space="preserve" x="167" y="36.3" font-size="9.4" fill="#e6e6e6" text-anchor="start" textLength="15.5" lengthAdjust="spacingAndGlyphs">Max</text>
<text xml:space="preserve" x="193" y="36.3" font-size="9.4" fill="#e6e6e6" text-anchor="start" textLength="20.5" lengthAdjust="spacingAndGlyphs">Daily</text>
<text xml:space="preserve" x="326" y="36.3" font-size="9.4" fill="#e6e6e6" text-anchor="start" textLength="21.5" lengthAdjust="spacingAndGlyphs">Table</text>
<polygon points="217,30.5 224.4,30.5 220.7,36.3" fill="#f0f0f0"/>
<g stroke="#c4c4c4" fill="none" stroke-width="0.9"><path d="M235.8 30v5.2h8M236 33.6l2.2-2.6 1.9 1.6 3.4-2.8"/></g>
<g stroke="#fff" stroke-width="0.8" fill="#fff"><path d="M253.7 27.8v8.8M257.3 29.6v7.4"/><rect x="252.9" y="30.2" width="1.6" height="4.2" /><rect x="256.5" y="32.2" width="1.6" height="2.8"/></g>
<g fill="#d4d4d4"><rect x="267.2" y="30.2" width="1.3" height="4"/><rect x="269.2" y="29.4" width="1.3" height="5.8"/><rect x="271.3" y="28" width="1.5" height="8.6"/><rect x="273.6" y="30" width="1.3" height="5"/><rect x="275.3" y="31" width="0.9" height="3"/></g>
<g fill="#d4d4d4"><rect x="283.6" y="28.6" width="1.7" height="7.6"/><rect x="282.6" y="30" width="1.2" height="1"/><rect x="287.8" y="28" width="1.3" height="8.6"/><rect x="288.6" y="28.5" width="3.2" height="3.6" fill="#bdbdbd"/></g>
<g fill="#d4d4d4"><rect x="301.8" y="28.6" width="1.3" height="8"/><rect x="300.4" y="29.8" width="1.6" height="1"/><rect x="305.8" y="28" width="1.3" height="8.2"/><rect x="306.8" y="30.6" width="1.8" height="1"/><rect x="304.2" y="34.4" width="1.8" height="1"/></g>
<rect x="805" y="26.8" width="113" height="11" fill="#f2a33a"/>
<text xml:space="preserve" x="807" y="36" font-size="10.5" fill="#8f6a24" text-anchor="start" textLength="39" lengthAdjust="spacingAndGlyphs">Add Data</text>
<rect x="918" y="26.3" width="106" height="12" fill="#232020"/>
<path d="M926 28.9l-3 3.3 3 3.3M930 28.9l-3 3.3 3 3.3" stroke="#f0f0f0" stroke-width="1.5" fill="none"/>
<g transform="translate(937,27.2)"><path d="M1.2 7.4l5.4-5.6 1.9 1.8-5.5 5.5-2.6 .9z" fill="#e8e8e8"/></g>
<text xml:space="preserve" x="949" y="35.7" font-size="9.2" fill="#e6e6e6" text-anchor="start" textLength="39.5" lengthAdjust="spacingAndGlyphs">Edit Chart</text>
<rect x="996" y="29.4" width="5.6" height="5.6" fill="#474747"/><path d="M997.6 34.8l5.8-5.4" stroke="#e0e0e0" stroke-width="1.5"/><path d="M999.6 35.5h4.6" stroke="#d0d0d0" stroke-width="1"/>
<g transform="translate(1017,32.3)"><circle r="2.5" fill="none" stroke="#ececec" stroke-width="1.7"/><g stroke="#ececec" stroke-width="1.5"><path d="M0-4.6v2M0 4.6v-2M-4.6 0h2M4.6 0h-2M-3.25-3.25l1.4 1.4M3.25 3.25l-1.4-1.4M-3.25 3.25l1.4-1.4M3.25-3.25l-1.4 1.4"/></g></g>
<rect x="0" y="413" width="1024" height="1" fill="#0e0e0e"/>
<rect x="0" y="0" width="1" height="414" fill="#2c4a98"/>
</svg>
</body></html>
